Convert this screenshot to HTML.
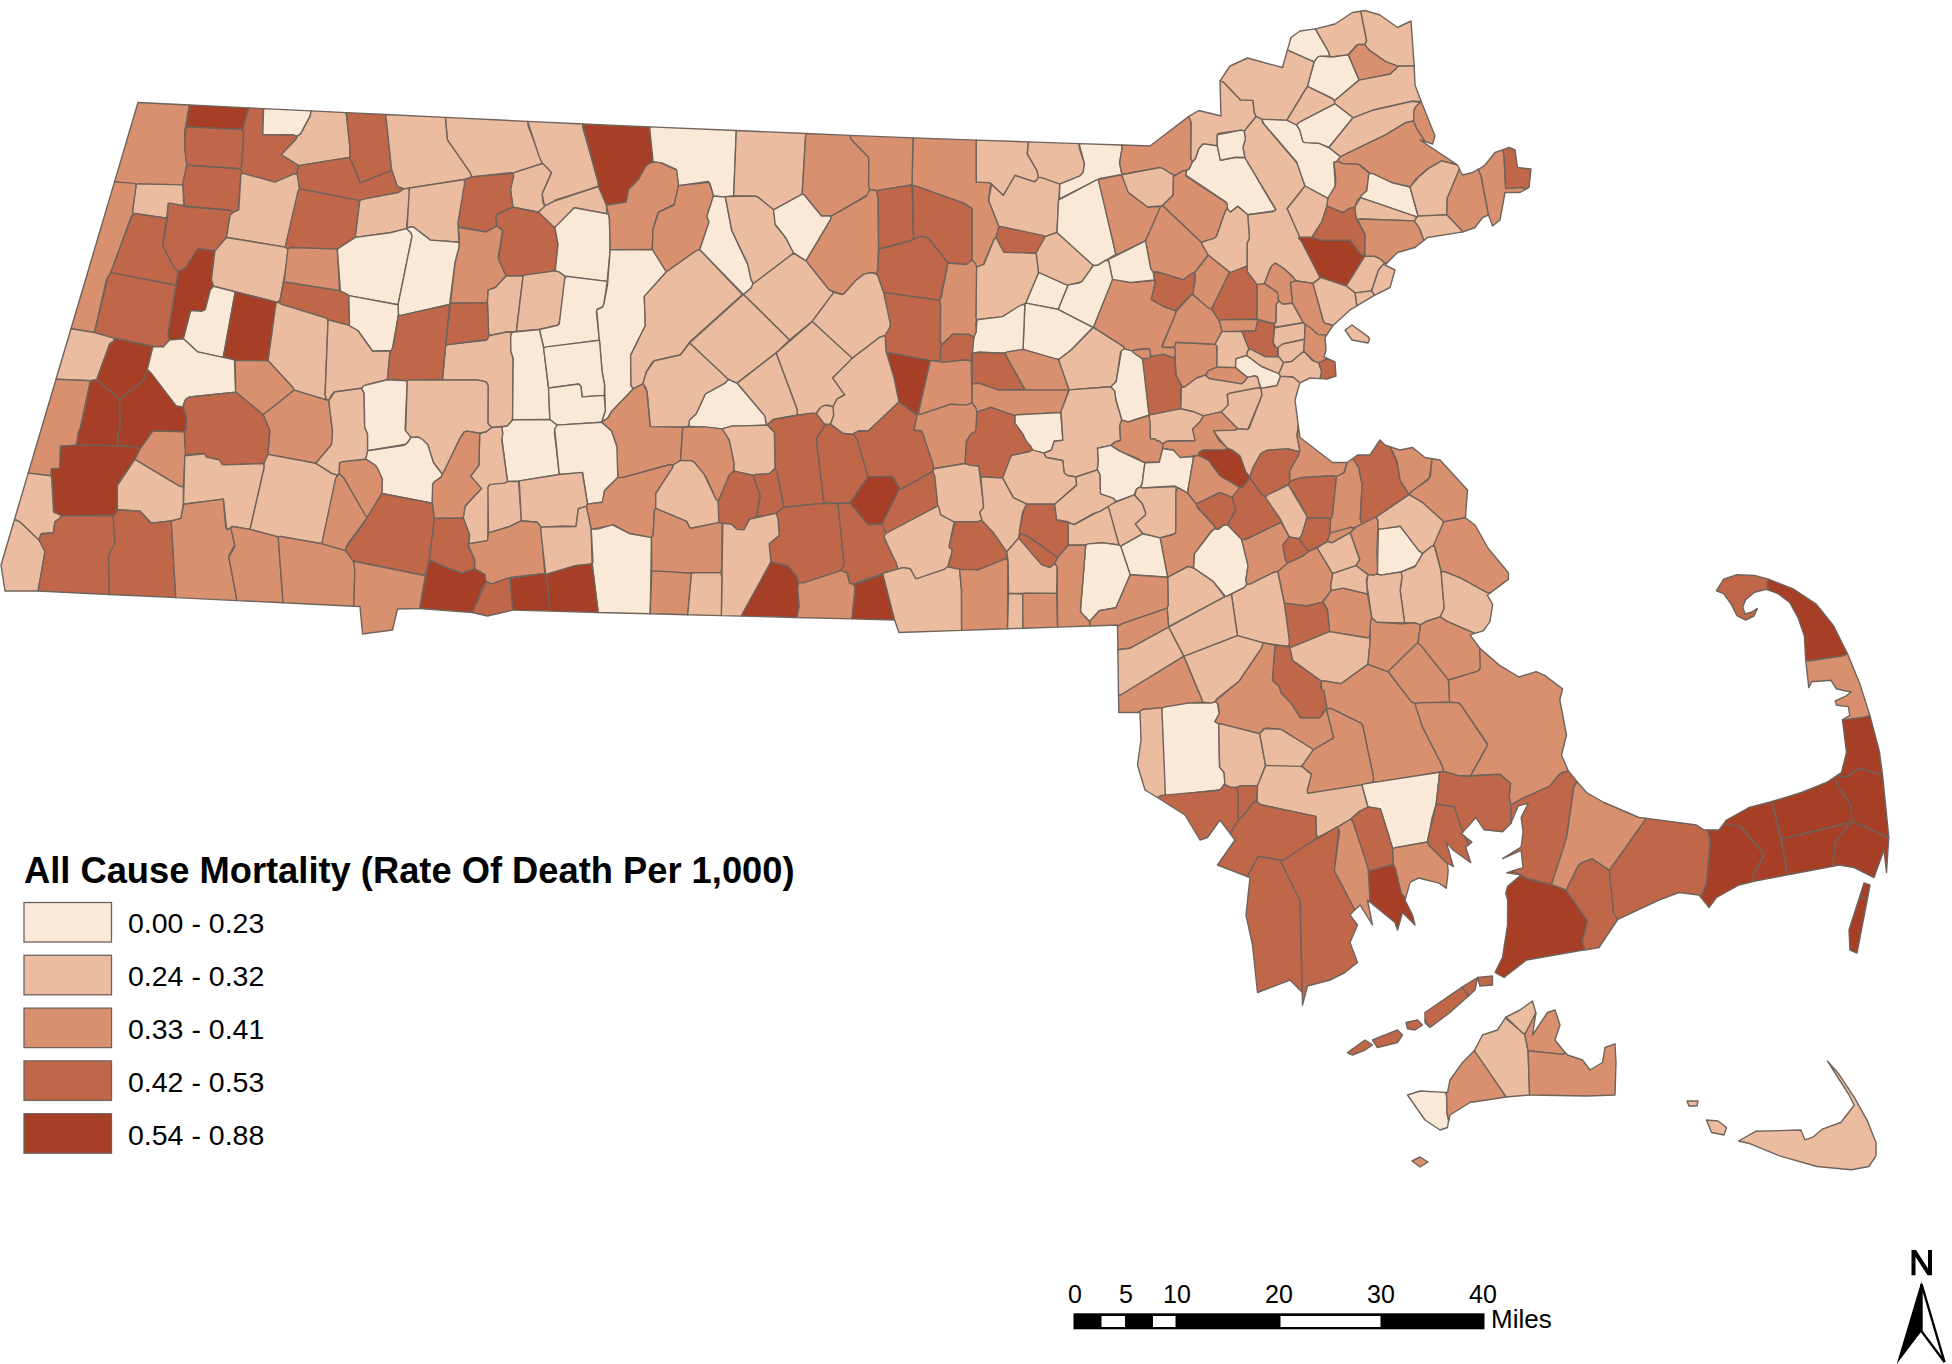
<!DOCTYPE html>
<html><head><meta charset="utf-8"><style>
html,body{margin:0;padding:0;background:#fff;}
body{width:1952px;height:1364px;overflow:hidden;position:relative;}
svg{position:absolute;left:0;top:0;}
text{font-family:"Liberation Sans",sans-serif;fill:#000;}
</style></head><body>
<svg width="1952" height="1364" viewBox="0 0 1952 1364">
<g fill-rule="evenodd" stroke="#6f635b" stroke-width="1.4" stroke-linejoin="round">
<path fill="#EBBC9F" d="M1868.8 1166.5 1876.0 1155.8 1876.0 1142.5 1867.5 1121.2 1854.2 1097.2 1838.2 1073.2 1827.5 1061.2 1848.8 1094.5 1854.2 1105.2 1840.8 1122.5 1822.2 1129.2 1812.9 1137.2 1804.9 1139.8 1800.9 1130.0 1755.6 1131.3 1738.7 1141.0 1750.3 1143.8 1779.6 1155.8 1816.9 1166.5 1851.5 1169.7Z"/>
<path fill="#EBBC9F" d="M1706.5 1120.0 1711.5 1132.5 1724.0 1135.0 1726.5 1127.5 1718.0 1121.0Z"/>
<path fill="#EBBC9F" d="M1689.0 1106.0 1697.0 1106.0 1698.0 1101.0 1687.0 1101.0Z"/>
<path fill="#D9906F" d="M1412.0 1161.0 1420.0 1167.0 1428.0 1162.0 1420.0 1157.0Z"/>
<path fill="#D9906F" d="M1174.4 346.5 1176.0 375.2 1181.9 386.9 1184.9 386.7 1196.7 378.0 1205.6 375.2 1208.5 370.7 1216.9 367.2 1217.1 346.3 1215.0 344.2 1175.8 342.2Z"/>
<path fill="#D9906F" d="M1479.6 648.0 1479.6 669.8 1448.4 680.1 1449.5 702.3 1458.3 702.9 1460.6 704.6 1487.4 743.6 1485.9 748.5 1470.5 775.6 1497.2 774.2 1502.1 775.7 1510.6 783.4 1509.2 796.9 1510.8 805.1 1523.5 797.9 1549.4 786.4 1559.0 774.8 1563.4 771.9 1568.5 771.2 1561.5 755.0 1566.5 735.0 1559.8 700.0 1562.5 688.9 1545.3 675.7 1536.1 671.7 1518.9 677.0 1499.2 665.1Z"/>
<path fill="#FBE9D8" d="M1198.8 148.4 1195.3 158.7 1192.4 161.7 1189.2 168.9 1186.4 170.9 1185.7 175.2 1226.1 202.1 1227.4 208.8 1230.3 212.1 1237.9 206.4 1247.7 214.7 1276.1 210.5 1244.8 157.5 1235.6 157.2 1220.5 160.3 1217.3 145.7 1204.0 143.4Z"/>
<path fill="#EBBC9F" d="M1256.1 116.3 1244.2 131.1 1245.4 139.0 1242.9 147.1 1244.8 157.5 1276.1 209.7 1273.0 211.7 1247.7 214.7 1249.4 238.0 1247.1 243.1 1247.2 271.8 1257.1 284.6 1262.9 284.1 1265.0 282.5 1270.2 267.9 1275.3 263.1 1283.9 268.6 1293.2 277.1 1295.3 280.8 1312.9 283.4 1320.2 277.6 1301.3 240.8 1298.6 238.2 1299.6 236.9 1298.8 233.5 1287.2 208.5 1305.0 186.0 1297.6 163.9 1262.5 122.5 1262.0 119.2Z"/>
<path fill="#FBE9D8" d="M1264.1 124.1 1296.7 161.9 1305.0 186.0 1327.3 198.2 1329.5 197.0 1335.3 186.0 1333.9 162.5 1337.2 161.1 1340.5 156.6 1328.9 147.5 1318.7 143.2 1303.2 141.9 1299.8 129.9 1296.6 125.0 1286.9 120.1 1263.2 118.8 1262.0 119.7Z"/>
<path fill="#A63F26" d="M1311.8 237.2 1301.9 236.2 1298.6 238.2 1301.3 240.8 1320.2 277.6 1346.3 286.0 1364.7 255.7 1360.6 254.3 1350.2 240.3 1320.7 240.2Z"/>
<path fill="#EBBC9F" d="M1364.9 256.1 1346.3 286.0 1355.0 292.9 1371.5 290.9 1378.8 269.5 1384.8 262.9 1379.7 258.5 1374.7 256.3Z"/>
<path fill="#EBBC9F" d="M1378.8 269.5 1371.5 290.9 1374.4 295.3 1390.0 287.5 1395.0 270.0 1385.0 265.0 1387.0 263.0 1384.8 262.9Z"/>
<path fill="#EBBC9F" d="M1371.5 290.9 1355.0 292.9 1356.8 305.9 1374.4 295.3Z"/>
<path fill="#EBBC9F" d="M1321.1 277.5 1312.9 283.4 1323.2 321.0 1324.9 323.3 1333.1 325.4 1350.0 310.0 1356.8 305.9 1355.0 292.9 1346.3 286.0ZM1368.4 336.9 1352.0 325.0 1345.0 330.0 1352.0 340.0 1368.0 343.0 1369.5 339.3Z"/>
<path fill="#D9906F" d="M1290.5 282.0 1292.5 303.3 1303.3 322.8 1318.0 334.6 1326.6 335.1 1333.1 325.4 1324.9 323.3 1323.2 321.0 1312.9 283.4 1295.3 280.8Z"/>
<path fill="#D9906F" d="M1271.6 265.8 1264.3 283.6 1276.3 291.3 1278.7 301.1 1282.3 304.1 1292.5 303.3 1290.3 282.5 1295.3 280.8 1294.8 279.0 1283.9 268.6 1275.3 263.1Z"/>
<path fill="#D9906F" d="M1257.1 284.6 1256.8 319.2 1274.2 323.8 1276.1 322.2 1276.3 304.3 1278.7 301.1 1277.5 292.6 1264.3 283.6Z"/>
<path fill="#EBBC9F" d="M1276.3 304.3 1276.1 322.2 1274.2 323.8 1275.0 327.2 1303.3 322.8 1292.5 303.3 1282.9 304.3 1278.7 301.1Z"/>
<path fill="#C0674A" d="M1247.7 272.9 1246.6 266.1 1244.2 266.3 1229.5 272.1 1228.1 273.8 1211.4 309.2 1219.1 320.7 1256.8 319.2 1257.1 284.6Z"/>
<path fill="#D9906F" d="M1219.1 320.7 1222.0 331.6 1255.5 330.8 1257.8 320.3 1256.8 319.2 1221.1 319.8Z"/>
<path fill="#C0674A" d="M1257.8 320.3 1255.5 330.8 1241.8 331.6 1248.6 348.8 1265.5 356.9 1278.4 356.5 1277.6 348.2 1274.4 346.2 1273.2 342.7 1274.2 323.8Z"/>
<path fill="#EBBC9F" d="M1274.6 327.7 1273.2 342.7 1276.3 347.7 1277.6 348.2 1282.8 344.0 1304.8 339.2 1305.2 324.8 1303.3 322.8Z"/>
<path fill="#EBBC9F" d="M1278.2 347.3 1278.4 356.5 1283.6 362.6 1291.7 361.5 1303.8 351.2 1304.9 339.3 1282.8 344.0Z"/>
<path fill="#D9906F" d="M1305.2 324.8 1303.8 351.2 1314.8 361.8 1318.8 362.9 1327.8 358.7 1324.0 357.0 1326.0 350.0 1325.0 337.5 1326.6 335.1 1318.0 334.6 1309.4 326.8Z"/>
<path fill="#D9906F" d="M1175.9 311.9 1162.0 346.9 1174.3 347.4 1175.8 342.2 1215.0 344.2 1222.0 331.6 1219.1 320.7 1211.4 309.2 1191.7 294.3Z"/>
<path fill="#EBBC9F" d="M1222.0 331.6 1215.0 344.2 1217.1 346.3 1216.9 367.2 1235.5 367.6 1235.9 358.8 1246.6 355.5 1248.8 349.0 1241.8 331.6Z"/>
<path fill="#EBBC9F" d="M1247.5 351.3 1246.6 355.5 1259.7 365.6 1278.0 373.8 1280.4 371.7 1283.6 362.6 1278.4 356.5 1265.5 356.9 1250.1 348.8Z"/>
<path fill="#FBE9D8" d="M1246.6 355.5 1235.9 358.8 1235.5 367.6 1241.7 373.4 1247.5 377.4 1256.9 376.1 1261.0 388.4 1277.0 385.6 1280.6 376.2 1278.8 373.7 1261.5 366.6Z"/>
<path fill="#D9906F" d="M1216.9 367.2 1208.5 370.7 1205.6 375.2 1208.8 378.5 1211.4 379.1 1241.2 383.9 1244.2 382.1 1247.5 377.4 1235.5 367.6Z"/>
<path fill="#EBBC9F" d="M1196.7 378.0 1184.9 386.7 1181.5 387.3 1180.3 408.8 1193.5 411.7 1203.3 415.9 1221.1 411.9 1226.2 408.0 1228.2 405.0 1227.2 394.7 1228.2 393.8 1260.1 387.6 1257.7 377.4 1254.5 375.7 1247.5 377.4 1244.2 382.1 1241.2 383.9 1208.8 378.5 1205.6 375.2Z"/>
<path fill="#EBBC9F" d="M1227.4 394.3 1228.2 405.0 1221.1 411.9 1237.7 428.7 1247.8 429.5 1262.0 395.3 1261.0 388.4 1258.2 387.8 1230.6 393.0Z"/>
<path fill="#EBBC9F" d="M1213.7 431.8 1227.2 448.5 1231.2 449.6 1239.4 455.3 1245.6 471.8 1249.7 476.8 1253.0 467.8 1260.8 453.5 1267.5 450.1 1288.3 448.9 1299.1 451.7 1299.9 450.5 1297.0 435.7 1298.3 425.7 1295.0 400.0 1299.9 382.8 1293.2 377.0 1283.2 375.8 1280.6 376.2 1277.0 385.6 1261.0 388.4 1262.0 395.3 1249.2 428.1 1247.6 429.6 1237.7 428.7 1235.1 430.1 1215.4 429.9Z"/>
<path fill="#EBBC9F" d="M1303.8 351.2 1291.7 361.5 1283.6 362.6 1278.8 373.7 1280.6 376.2 1293.2 377.0 1299.9 382.8 1310.0 378.0 1320.1 378.6 1321.6 371.6 1318.8 362.9 1312.3 360.6Z"/>
<path fill="#C0674A" d="M1327.8 358.7 1318.8 362.9 1321.6 371.6 1320.1 378.6 1327.0 379.0 1336.0 376.0 1335.0 362.0Z"/>
<path fill="#C0674A" d="M1149.7 358.1 1141.9 358.4 1149.0 415.1 1179.6 409.5 1181.0 406.4 1180.6 389.8 1181.9 386.9 1176.0 375.2 1174.8 358.1 1163.0 354.1 1150.9 356.5Z"/>
<path fill="#D9906F" d="M1112.1 279.8 1093.3 327.4 1123.4 346.7 1124.5 348.8 1132.5 351.1 1136.3 349.4 1148.8 348.5 1150.9 356.5 1163.0 354.1 1174.7 357.9 1175.4 350.4 1174.3 347.4 1165.1 347.6 1162.6 347.3 1161.9 345.8 1175.5 314.1 1175.8 310.7 1163.5 306.5 1151.4 299.7 1155.0 284.4 1154.7 280.2 1130.7 282.5 1114.8 279.1Z"/>
<path fill="#EBBC9F" d="M1193.5 411.7 1180.3 408.8 1149.0 415.1 1150.6 439.1 1154.9 438.6 1156.5 440.8 1159.3 441.2 1162.6 443.8 1169.4 440.9 1195.3 440.5 1192.7 429.1 1200.3 421.6 1203.3 415.9Z"/>
<path fill="#D9906F" d="M1192.7 429.1 1195.0 440.7 1166.9 441.2 1162.6 443.8 1162.7 448.5 1173.6 450.3 1178.7 456.6 1181.3 457.7 1198.2 455.4 1199.2 452.6 1202.9 450.0 1224.0 450.1 1227.2 448.5 1226.7 447.2 1218.9 440.4 1213.7 430.8 1235.1 430.1 1237.7 428.7 1221.1 411.9 1203.3 415.9 1200.3 421.6Z"/>
<path fill="#D9906F" d="M1298.3 425.7 1297.0 435.7 1299.9 450.5 1289.5 471.2 1289.8 481.3 1300.2 477.8 1333.4 475.8 1336.5 476.6 1343.5 474.0 1347.1 462.5 1332.5 462.5 1300.0 437.5Z"/>
<path fill="#EBBC9F" d="M976.2 140.1 976.2 182.1 990.7 183.2 1003.4 195.4 1015.0 175.5 1033.5 181.7 1037.2 180.0 1038.5 177.4 1037.0 170.7 1027.3 153.9 1028.4 141.9Z"/>
<path fill="#EBBC9F" d="M1028.4 141.9 1027.3 153.9 1037.0 170.7 1038.5 177.4 1059.7 184.1 1079.5 176.2 1083.1 172.5 1084.5 163.8 1079.5 148.7 1079.0 143.6Z"/>
<path fill="#FBE9D8" d="M1079.0 143.6 1084.5 163.8 1083.1 172.5 1079.5 176.2 1059.7 184.1 1059.4 199.0 1100.1 178.5 1121.9 174.4 1119.6 162.6 1122.1 148.3 1121.6 145.0Z"/>
<path fill="#D9906F" d="M1121.9 174.4 1160.1 167.5 1173.8 175.3 1189.2 168.9 1192.4 161.7 1190.9 158.4 1191.2 122.4 1188.9 116.4 1150.0 146.0 1121.6 145.0 1122.1 148.3 1119.6 162.6Z"/>
<path fill="#EBBC9F" d="M1188.9 116.4 1191.2 122.4 1190.9 158.4 1192.4 161.7 1195.3 158.7 1198.8 148.4 1203.2 143.7 1217.3 145.7 1217.3 134.7 1218.4 133.5 1241.2 130.1 1244.2 131.1 1256.1 116.3 1254.3 112.4 1253.0 100.4 1240.6 99.9 1223.6 82.2 1220.0 80.9 1221.0 116.0 1198.8 110.5Z"/>
<path fill="#FBE9D8" d="M1241.2 130.1 1217.3 134.7 1217.3 145.7 1220.3 160.2 1235.6 157.2 1244.8 157.5 1242.9 147.1 1245.4 139.0 1244.2 131.1Z"/>
<path fill="#EBBC9F" d="M991.6 184.4 988.5 200.6 998.9 226.7 1045.2 236.6 1057.0 232.4 1059.7 184.1 1041.9 177.6 1038.5 177.4 1035.7 181.3 1033.5 181.7 1015.0 175.5 1003.4 195.4Z"/>
<path fill="#D9906F" d="M913.0 137.9 912.0 185.0 964.2 203.4 972.0 208.9 972.0 259.7 976.6 266.7 983.1 265.1 994.0 239.4 996.0 237.5 998.9 226.7 988.5 200.6 990.3 186.5 991.6 184.3 989.4 182.6 976.2 182.1 976.2 140.1Z"/>
<path fill="#C0674A" d="M998.9 226.7 996.0 237.5 1003.2 251.5 1005.3 252.8 1035.8 253.5 1045.0 238.3 1043.7 235.6 1001.9 226.8Z"/>
<path fill="#EBBC9F" d="M1045.2 236.6 1035.8 253.5 1038.5 272.9 1068.0 285.6 1082.2 281.3 1092.7 266.9 1092.4 264.0 1057.0 232.4Z"/>
<path fill="#EBBC9F" d="M976.1 267.3 975.9 317.8 976.9 319.7 1002.6 316.6 1025.9 303.1 1038.5 272.9 1036.4 254.7 1035.0 253.4 1003.7 252.2 996.0 237.5 994.0 239.4 983.9 264.4Z"/>
<path fill="#FBE9D8" d="M1096.1 180.1 1058.5 200.2 1057.0 232.4 1093.3 265.5 1097.6 265.4 1115.9 254.3 1099.5 182.3 1098.3 179.6Z"/>
<path fill="#D9906F" d="M1121.6 174.8 1098.3 179.6 1115.9 254.3 1118.0 254.2 1145.5 240.9 1160.7 208.5 1160.6 206.5 1147.6 207.0 1129.4 193.4Z"/>
<path fill="#EBBC9F" d="M1160.1 167.5 1121.6 174.8 1128.2 192.2 1147.6 207.0 1162.5 205.6 1173.2 195.0 1173.8 175.3 1163.5 168.8Z"/>
<path fill="#D9906F" d="M1183.0 170.7 1173.3 176.7 1173.2 195.0 1162.5 205.6 1201.7 242.7 1214.2 238.3 1216.5 236.3 1225.6 210.4 1227.4 208.8 1227.0 203.1 1187.2 177.0 1185.7 175.2 1186.4 170.9Z"/>
<path fill="#D9906F" d="M1160.6 206.5 1145.5 240.9 1150.8 269.1 1153.2 271.9 1157.5 271.8 1183.5 279.8 1194.9 272.2 1208.3 254.6 1201.7 242.7 1162.5 205.6Z"/>
<path fill="#EBBC9F" d="M1225.6 210.4 1216.5 236.3 1214.2 238.3 1203.3 241.5 1201.6 243.6 1208.3 255.2 1229.5 272.1 1231.7 271.9 1246.6 266.1 1247.1 264.8 1247.1 243.1 1249.4 238.0 1247.7 214.7 1237.9 206.4 1230.3 212.1 1227.4 208.8Z"/>
<path fill="#FBE9D8" d="M1145.5 240.9 1108.1 259.7 1112.5 279.4 1130.7 282.5 1154.5 280.0 1153.2 271.9 1150.8 269.1Z"/>
<path fill="#FBE9D8" d="M1038.5 272.9 1025.9 303.1 1058.2 309.4 1068.0 285.6 1040.8 273.4Z"/>
<path fill="#FBE9D8" d="M1068.0 285.6 1058.2 309.5 1093.3 327.4 1112.5 279.4 1108.8 261.2 1105.6 260.3 1097.6 265.4 1093.3 265.5 1082.2 281.3 1079.2 283.0 1069.9 284.5Z"/>
<path fill="#C0674A" d="M1162.3 273.3 1153.2 271.9 1155.4 281.9 1151.3 299.3 1163.5 306.5 1175.8 310.7 1190.2 295.2 1193.8 292.9 1195.2 272.6 1191.4 273.5 1183.5 279.8Z"/>
<path fill="#D9906F" d="M1208.3 255.2 1194.9 272.2 1195.4 277.7 1192.9 294.3 1207.4 307.3 1211.4 309.2 1229.5 272.1Z"/>
<path fill="#FBE9D8" d="M1024.9 304.0 1023.0 349.4 1056.0 359.5 1060.8 358.5 1068.7 352.5 1092.8 327.5 1057.9 309.3 1025.9 303.1Z"/>
<path fill="#FBE9D8" d="M976.9 319.7 976.2 331.7 973.8 337.0 972.4 353.2 979.3 352.3 1004.6 353.2 1023.0 349.4 1024.9 304.0 1019.3 305.9 1002.6 316.6Z"/>
<path fill="#D9906F" d="M1004.6 353.2 1024.6 389.2 1026.3 390.1 1069.2 389.9 1058.5 359.6 1023.0 349.4 1007.0 351.9Z"/>
<path fill="#EBBC9F" d="M1072.2 349.1 1058.5 359.6 1069.2 389.9 1110.7 386.7 1116.2 381.8 1120.5 352.3 1124.5 348.8 1123.4 346.7 1093.3 327.4Z"/>
<path fill="#FBE9D8" d="M1121.5 350.5 1116.2 381.8 1110.7 386.7 1114.6 391.0 1115.8 399.8 1121.8 420.2 1128.1 422.0 1149.0 415.1 1142.8 361.3 1141.9 358.4 1132.5 351.1 1124.5 348.8Z"/>
<path fill="#D9906F" d="M1149.7 348.9 1133.8 350.0 1132.5 351.1 1133.1 352.5 1141.9 358.4 1148.6 358.5 1150.6 357.2Z"/>
<path fill="#C0674A" d="M972.4 353.2 972.1 384.0 978.6 383.2 998.9 390.1 1024.6 389.2 1004.6 353.2 979.3 352.3Z"/>
<path fill="#D9906F" d="M972.1 384.0 972.0 402.8 976.1 408.5 976.8 412.2 991.0 407.5 1014.8 415.6 1060.7 412.5 1068.9 390.1 998.9 390.1 978.6 383.2Z"/>
<path fill="#FBE9D8" d="M1014.8 415.6 1014.8 423.2 1022.9 434.4 1025.6 440.4 1032.4 449.9 1034.8 451.2 1043.9 453.2 1051.5 450.0 1054.2 441.2 1062.9 440.3 1060.7 412.5 1017.5 414.7Z"/>
<path fill="#C0674A" d="M976.8 412.2 975.2 431.5 970.8 433.9 965.8 443.1 965.0 463.5 970.0 465.4 978.4 465.9 980.9 476.8 1002.7 478.1 1011.6 455.5 1031.2 451.1 1032.4 449.9 1031.3 446.9 1025.6 440.4 1022.9 434.4 1014.8 423.2 1014.8 415.6 991.0 407.5Z"/>
<path fill="#EBBC9F" d="M1061.0 411.4 1062.9 440.3 1054.2 441.2 1051.5 450.0 1043.9 453.2 1045.7 456.8 1047.8 457.8 1062.7 460.5 1064.2 473.0 1067.5 475.5 1075.9 477.0 1097.4 469.9 1098.4 459.8 1097.5 448.2 1110.9 445.4 1115.3 441.7 1120.6 440.5 1119.5 427.3 1121.8 420.2 1115.8 399.8 1114.6 391.0 1110.7 386.7 1069.2 389.9Z"/>
<path fill="#D9906F" d="M1119.8 424.8 1120.6 440.5 1115.3 441.7 1110.9 445.4 1118.7 450.7 1138.3 459.0 1142.3 462.0 1159.3 462.2 1162.7 448.5 1162.6 443.8 1159.3 441.2 1156.5 440.8 1154.9 438.6 1151.8 439.3 1150.2 438.4 1150.1 421.0 1148.7 415.5 1128.1 422.0 1121.8 420.2Z"/>
<path fill="#A63F26" d="M1198.2 455.4 1208.7 460.6 1220.0 476.0 1239.7 487.3 1242.4 487.2 1249.9 478.1 1245.6 471.8 1240.3 456.5 1231.2 449.6 1227.2 448.5 1224.0 450.1 1202.9 450.0 1199.2 452.6Z"/>
<path fill="#C0674A" d="M1260.8 453.5 1253.0 467.8 1249.9 478.1 1262.6 495.5 1265.7 496.8 1287.9 485.0 1289.8 481.3 1289.5 471.2 1299.1 454.1 1299.1 451.7 1288.3 448.9 1267.5 450.1Z"/>
<path fill="#C0674A" d="M1290.8 480.8 1287.9 485.0 1293.4 491.9 1305.3 513.1 1306.8 518.2 1327.3 517.9 1330.5 519.2 1332.3 516.8 1336.5 476.6 1333.4 475.8 1300.2 477.8Z"/>
<path fill="#D9906F" d="M1336.5 476.6 1332.3 516.8 1330.5 519.2 1330.0 533.0 1335.5 532.5 1350.7 527.3 1353.8 528.1 1362.0 523.9 1360.3 518.8 1362.1 484.8 1358.7 467.4 1354.7 460.3 1352.5 458.7 1347.1 462.5 1344.6 472.4Z"/>
<path fill="#C0674A" d="M1352.5 458.7 1358.7 467.4 1362.1 484.8 1360.3 518.8 1362.0 523.9 1376.1 517.2 1409.1 494.7 1400.2 480.3 1396.9 460.9 1392.6 453.6 1390.4 446.8 1385.0 445.0 1380.0 440.0 1370.0 455.0 1357.5 455.0Z"/>
<path fill="#D9906F" d="M1390.4 446.8 1396.9 460.9 1400.2 480.3 1409.1 494.3 1429.4 477.9 1432.1 458.7 1425.0 457.5 1412.5 447.5 1400.0 450.0Z"/>
<path fill="#D9906F" d="M1432.1 458.7 1430.4 476.3 1428.0 479.9 1412.3 490.8 1409.1 494.7 1422.5 502.6 1443.6 521.9 1465.4 517.8 1467.5 490.0 1440.0 460.0Z"/>
<path fill="#FBE9D8" d="M1110.9 445.4 1097.5 448.2 1098.4 459.8 1097.4 469.9 1099.9 474.7 1100.4 493.8 1112.9 498.1 1116.1 501.5 1134.2 494.9 1136.5 488.9 1140.5 486.9 1142.1 484.2 1144.9 462.8 1118.7 450.7Z"/>
<path fill="#FBE9D8" d="M1144.9 462.8 1142.1 484.2 1140.5 486.9 1142.5 488.0 1174.9 486.0 1187.5 493.2 1193.7 456.5 1180.2 457.6 1173.6 450.3 1162.7 448.5 1159.3 462.2Z"/>
<path fill="#EBBC9F" d="M1134.8 495.4 1142.0 503.2 1145.5 512.5 1145.4 514.7 1135.2 524.1 1142.7 533.7 1160.1 537.9 1175.2 533.5 1176.2 530.3 1176.1 486.6 1142.5 488.0 1140.5 486.9 1136.5 488.9Z"/>
<path fill="#D9906F" d="M1193.7 456.5 1187.5 493.2 1196.2 503.8 1201.2 502.4 1219.1 492.6 1232.2 497.4 1238.9 489.6 1239.7 487.3 1220.0 476.0 1208.7 460.6 1204.5 458.4 1198.2 455.4Z"/>
<path fill="#C0674A" d="M1220.1 492.5 1196.2 503.8 1196.4 506.1 1213.8 525.2 1215.1 528.2 1218.3 529.4 1223.8 525.3 1227.6 524.9 1235.8 508.9 1232.2 497.4Z"/>
<path fill="#C0674A" d="M1239.7 487.3 1232.2 497.4 1235.7 510.1 1227.6 524.9 1241.8 539.8 1246.8 539.0 1281.1 522.4 1280.0 518.6 1265.7 496.8 1262.6 495.5 1249.9 478.1 1242.4 487.2Z"/>
<path fill="#EBBC9F" d="M1287.9 485.0 1268.8 494.2 1265.7 496.8 1266.4 498.9 1280.0 518.6 1289.1 536.9 1298.9 538.8 1301.7 535.5 1306.8 518.2 1306.4 515.3 1289.1 486.1Z"/>
<path fill="#C0674A" d="M1306.8 518.2 1301.7 535.5 1298.9 538.8 1308.4 551.7 1327.4 541.6 1330.0 533.0 1330.5 519.2 1327.3 517.9Z"/>
<path fill="#C0674A" d="M1289.1 536.9 1282.6 545.1 1285.4 559.9 1287.5 563.2 1302.9 556.2 1308.4 551.7 1298.9 538.8Z"/>
<path fill="#D9906F" d="M1350.7 527.3 1330.0 533.0 1327.4 541.6 1331.9 542.9 1351.6 531.8 1353.8 528.1Z"/>
<path fill="#EBBC9F" d="M1327.4 541.6 1317.0 547.8 1332.5 573.7 1356.1 565.7 1359.7 559.8 1350.3 532.7 1331.9 542.9Z"/>
<path fill="#D9906F" d="M1355.9 527.2 1350.3 532.7 1359.8 559.4 1356.1 565.7 1368.0 574.6 1375.6 574.8 1377.4 574.0 1377.9 571.1 1376.8 553.3 1378.1 520.8 1376.1 517.2 1374.9 517.5Z"/>
<path fill="#FBE9D8" d="M1378.4 529.0 1377.4 574.0 1380.7 575.1 1401.0 572.0 1416.4 565.5 1422.8 553.4 1418.8 550.6 1401.3 527.2 1398.9 526.2Z"/>
<path fill="#EBBC9F" d="M1409.1 494.7 1376.1 517.2 1378.1 520.8 1377.9 528.2 1380.4 529.1 1400.1 526.3 1418.8 550.6 1422.8 553.4 1433.5 545.5 1443.6 523.8 1443.2 521.2 1422.5 502.6Z"/>
<path fill="#D9906F" d="M1443.6 521.9 1433.5 545.5 1435.4 548.4 1441.1 571.5 1445.0 571.8 1459.1 577.4 1487.0 592.6 1490.3 592.9 1508.4 579.4 1508.4 572.8 1488.6 549.0 1475.0 525.0 1465.4 517.8Z"/>
<path fill="#EBBC9F" d="M1401.5 581.3 1400.1 590.0 1404.6 623.0 1414.8 622.8 1420.5 624.9 1425.9 621.5 1440.2 616.8 1444.2 608.2 1441.1 571.5 1434.3 546.0 1431.3 546.4 1422.8 553.4 1415.0 566.7 1401.0 572.0Z"/>
<path fill="#EBBC9F" d="M1441.1 571.5 1444.2 608.2 1440.2 616.8 1447.1 621.4 1474.8 633.4 1483.3 630.8 1489.9 621.6 1492.6 604.4 1487.3 595.2 1490.3 592.9 1487.0 592.6 1461.2 578.4 1445.0 571.8Z"/>
<path fill="#EBBC9F" d="M1366.6 582.7 1371.7 617.7 1376.7 622.2 1404.6 623.0 1400.1 590.0 1402.1 576.3 1401.0 572.0 1380.7 575.1 1377.4 574.0 1373.2 575.2 1368.0 574.6Z"/>
<path fill="#D9906F" d="M1322.9 602.0 1327.3 609.4 1329.6 631.6 1366.7 637.8 1369.5 637.2 1371.7 617.7 1367.5 594.0 1343.1 588.1 1331.1 590.4Z"/>
<path fill="#EBBC9F" d="M1356.1 565.7 1332.5 573.7 1330.5 585.6 1331.1 590.4 1343.1 588.1 1367.5 594.0 1366.4 580.1 1368.0 574.6Z"/>
<path fill="#D9906F" d="M1277.7 571.5 1284.3 603.1 1306.9 606.0 1322.0 602.4 1331.1 590.4 1330.5 585.6 1332.5 573.7 1317.0 547.8 1308.4 551.7 1302.9 556.2 1287.5 563.2 1278.9 569.6Z"/>
<path fill="#C0674A" d="M1284.3 603.1 1289.5 641.8 1288.5 646.5 1289.9 647.8 1329.6 631.6 1327.3 609.4 1322.8 602.1 1306.9 606.0Z"/>
<path fill="#EBBC9F" d="M1231.4 594.4 1237.5 635.7 1263.3 642.9 1288.5 646.5 1289.5 641.8 1284.3 603.1 1277.7 571.5 1274.5 571.8 1250.8 583.6 1246.8 584.3 1244.2 587.3 1233.2 592.9Z"/>
<path fill="#EBBC9F" d="M1329.6 631.6 1289.9 647.8 1291.9 659.7 1321.1 681.1 1340.8 683.8 1367.9 664.4 1370.2 641.3 1369.5 637.2 1366.7 637.8Z"/>
<path fill="#D9906F" d="M1370.3 622.9 1370.2 641.3 1367.9 664.4 1388.1 671.8 1418.0 643.0 1420.5 624.9 1414.8 622.8 1401.6 623.8 1376.7 622.2 1371.7 617.7Z"/>
<path fill="#D9906F" d="M1440.2 616.8 1425.9 621.5 1420.5 624.9 1418.0 643.0 1448.2 680.0 1477.8 671.1 1480.2 667.8 1479.6 648.0 1470.1 634.8 1474.8 633.4 1447.1 621.4Z"/>
<path fill="#D9906F" d="M1415.8 644.3 1388.1 671.8 1411.5 702.1 1415.8 703.7 1449.5 702.3 1448.4 680.1 1421.2 645.8 1418.0 643.0Z"/>
<path fill="#C0674A" d="M1274.9 645.3 1272.0 679.5 1279.3 686.8 1281.0 693.1 1290.9 702.9 1300.3 717.9 1320.1 717.7 1323.3 711.5 1326.9 708.1 1324.0 690.6 1321.6 689.6 1320.5 686.0 1321.1 681.1 1292.7 660.7 1289.9 647.8 1288.5 646.5Z"/>
<path fill="#D9906F" d="M1321.1 681.1 1321.6 689.6 1324.0 690.6 1326.9 708.1 1332.0 708.8 1361.1 723.4 1362.8 725.9 1373.4 777.3 1373.2 782.0 1378.1 782.3 1443.6 771.4 1442.1 765.4 1422.4 726.7 1415.8 703.7 1411.5 702.1 1388.1 671.8 1367.9 664.4 1340.8 683.8 1324.0 680.7Z"/>
<path fill="#EBBC9F" d="M1224.7 596.6 1168.6 627.2 1184.0 656.4 1237.5 635.7 1231.4 594.4Z"/>
<path fill="#EBBC9F" d="M1167.6 577.2 1168.2 604.8 1167.1 608.2 1168.7 626.6 1224.7 596.6 1213.0 581.1 1195.0 568.7 1188.3 566.3Z"/>
<path fill="#FBE9D8" d="M1213.6 528.9 1194.2 553.9 1193.5 567.8 1213.0 581.1 1225.7 596.6 1244.2 587.3 1246.8 584.3 1245.9 579.5 1248.1 565.8 1241.8 539.8 1227.6 524.9 1223.8 525.3 1218.3 529.4Z"/>
<path fill="#D9906F" d="M1241.8 539.8 1248.1 565.8 1245.9 579.5 1246.8 584.3 1250.8 583.6 1274.5 571.8 1277.7 571.5 1287.5 563.2 1285.4 559.9 1282.6 545.1 1289.1 536.9 1281.1 522.4 1246.8 539.0Z"/>
<path fill="#D9906F" d="M1175.9 491.9 1175.8 532.8 1172.0 535.1 1160.1 537.9 1167.6 577.2 1187.7 566.3 1193.5 567.8 1194.2 553.9 1210.4 532.1 1215.1 528.2 1213.8 525.2 1197.7 508.0 1196.2 503.8 1187.5 493.2 1178.0 487.7Z"/>
<path fill="#FBE9D8" d="M1120.6 546.1 1130.2 574.7 1167.6 577.2 1160.1 537.9 1142.7 533.7Z"/>
<path fill="#EBBC9F" d="M1107.4 506.8 1119.0 545.0 1120.6 546.1 1142.7 533.7 1135.2 524.1 1145.4 514.7 1145.5 512.5 1142.0 503.2 1134.2 494.9 1109.7 504.7Z"/>
<path fill="#EBBC9F" d="M1067.9 522.6 1068.2 545.3 1085.7 545.0 1100.6 542.6 1119.0 545.0 1109.0 508.8 1107.4 506.8 1074.6 524.5Z"/>
<path fill="#FBE9D8" d="M1085.7 545.0 1080.4 610.4 1081.4 613.0 1089.7 621.4 1099.2 610.8 1116.0 607.8 1130.2 574.7 1120.6 546.1 1119.0 545.0 1102.9 542.7 1088.0 543.9Z"/>
<path fill="#D9906F" d="M1116.0 607.8 1099.2 610.8 1089.7 621.4 1089.6 626.0 1117.5 625.0 1117.5 626.7 1121.9 623.9 1167.1 608.2 1168.2 604.8 1167.6 577.3 1130.2 574.7Z"/>
<path fill="#D9906F" d="M1117.9 649.8 1129.8 648.3 1168.6 627.2 1167.1 608.2 1121.9 623.9 1117.5 626.7Z"/>
<path fill="#EBBC9F" d="M1120.7 695.0 1183.7 656.3 1168.6 627.2 1129.8 648.3 1117.9 649.8 1118.5 695.0Z"/>
<path fill="#EBBC9F" d="M1237.5 635.7 1184.0 656.4 1203.0 702.3 1211.3 703.1 1215.1 701.8 1216.6 699.0 1239.3 681.0 1261.4 648.3 1263.3 642.9Z"/>
<path fill="#D9906F" d="M1183.7 656.3 1120.7 695.0 1118.5 695.0 1118.8 712.5 1137.6 712.5 1143.0 709.5 1161.9 708.3 1187.8 703.2 1203.0 702.3Z"/>
<path fill="#D9906F" d="M1239.3 681.0 1215.2 701.3 1218.5 705.4 1219.2 712.9 1214.7 721.6 1217.0 723.4 1259.7 733.7 1263.3 729.2 1267.1 728.0 1281.1 729.4 1313.1 750.0 1333.7 737.9 1326.5 708.8 1319.5 718.1 1300.3 717.9 1290.9 702.9 1281.0 693.1 1279.3 686.8 1272.4 680.6 1274.9 645.3 1263.3 642.9 1261.4 648.3Z"/>
<path fill="#C0674A" d="M1510.8 805.1 1510.8 823.6 1518.0 806.2 1528.3 803.1 1521.1 817.5 1523.1 831.8 1521.1 847.2 1502.6 858.5 1521.1 850.3 1523.1 867.7 1512.6 871.0 1527.3 878.7 1551.4 884.7 1566.1 840.1 1573.9 786.9 1577.1 781.8 1568.5 771.2 1563.4 771.9 1559.0 774.8 1549.4 786.4 1523.5 797.9Z"/>
<path fill="#D9906F" d="M1566.6 837.9 1551.4 884.7 1566.1 890.2 1578.9 864.5 1581.9 862.6 1592.1 858.8 1609.5 870.4 1644.5 821.0 1645.1 818.1 1639.0 817.5 1604.0 802.5 1586.5 792.5 1577.1 781.8 1573.9 786.9Z"/>
<path fill="#A63F26" d="M1584.7 949.7 1582.4 941.0 1587.4 921.2 1566.1 890.2 1551.4 884.7 1527.3 878.7 1520.6 875.3 1507.7 886.2 1505.7 893.4 1507.7 900.0 1507.5 925.0 1502.5 957.5 1495.0 972.5 1504.0 977.5 1526.5 960.0ZM1519.2 874.6 1512.6 871.0 1506.7 872.9Z"/>
<path fill="#C0674A" d="M1577.9 866.6 1566.1 890.2 1587.4 921.2 1582.4 941.0 1584.8 950.1 1599.0 947.5 1617.9 919.4 1613.6 912.5 1609.4 870.5 1592.1 858.8 1581.9 862.6Z"/>
<path fill="#C0674A" d="M1644.5 821.0 1609.4 870.5 1613.6 912.5 1617.9 919.4 1659.0 900.0 1679.0 892.5 1699.0 895.0 1700.9 897.4 1706.6 884.0 1710.4 839.3 1707.4 830.0 1704.0 830.0 1696.5 825.0 1645.1 818.1Z"/>
<path fill="#A63F26" d="M1707.4 830.0 1710.6 841.2 1706.6 884.0 1700.9 897.4 1709.0 907.5 1716.5 897.5 1739.0 885.0 1754.0 881.4 1753.2 875.0 1764.0 854.3 1739.5 825.9 1723.8 823.6 1719.0 830.0Z"/>
<path fill="#A63F26" d="M1723.8 823.6 1741.0 826.6 1763.6 853.4 1763.9 855.6 1753.2 875.0 1754.0 881.4 1785.3 875.3 1786.4 866.0 1772.2 801.5 1749.0 807.5 1726.5 820.0Z"/>
<path fill="#A63F26" d="M1772.2 801.5 1781.5 839.8 1845.6 823.5 1849.4 824.0 1852.9 820.4 1850.1 803.5 1837.8 786.3 1835.1 776.8 1826.5 782.5 1801.5 792.5Z"/>
<path fill="#A63F26" d="M1781.5 839.8 1786.4 866.0 1785.3 875.3 1833.0 866.2 1835.7 841.7 1847.8 827.7 1849.4 824.0 1845.6 823.5 1784.8 838.2Z"/>
<path fill="#A63F26" d="M1849.4 824.0 1835.7 841.7 1833.0 866.2 1839.0 865.0 1854.0 867.5 1874.0 877.5 1884.0 850.0 1886.5 872.5 1888.8 837.3 1852.6 821.6ZM1867.3 899.3 1870.0 885.0 1864.0 883.0 1859.8 896.2Z"/>
<path fill="#A63F26" d="M1858.6 768.6 1846.0 777.2 1837.2 775.4 1835.1 776.8 1837.8 786.3 1850.1 803.5 1852.6 821.6 1888.8 837.3 1882.4 773.6 1877.0 773.5 1861.7 768.5Z"/>
<path fill="#A63F26" d="M1837.2 775.4 1846.0 777.2 1859.5 768.4 1877.0 773.5 1882.4 773.6 1879.2 750.6 1869.8 715.1 1866.4 716.6 1846.4 718.5 1842.5 720.1 1846.5 752.5 1841.5 772.5Z"/>
<path fill="#C0674A" d="M1768.5 590.2 1767.2 582.8 1768.3 579.1 1754.5 575.4 1736.9 574.7 1723.7 579.1 1716.4 590.8 1723.7 593.7 1731.1 604.0 1736.9 615.7 1745.7 620.0 1754.0 616.0 1757.4 608.4 1752.0 612.0 1745.0 614.0 1742.8 606.9 1745.7 599.6 1754.5 592.3 1766.2 589.3Z"/>
<path fill="#A63F26" d="M1768.5 590.2 1778.0 593.7 1789.7 602.5 1798.5 618.7 1804.4 636.2 1805.7 660.5 1808.5 661.1 1843.6 655.7 1847.5 653.7 1833.7 626.0 1816.1 604.0 1792.6 588.6 1768.3 579.1 1767.2 582.8Z"/>
<path fill="#D9906F" d="M1842.5 720.1 1866.4 716.6 1869.8 715.1 1860.1 684.6 1847.5 653.7 1843.6 655.7 1808.5 661.1 1805.7 660.5 1808.8 687.6 1811.7 681.7 1830.8 680.2 1836.6 689.0 1851.3 692.0 1845.4 696.4 1835.2 700.8 1836.6 705.2 1848.4 706.6 1849.8 715.4 1842.5 719.8Z"/>
<path fill="#EBBC9F" d="M445.3 117.4 447.4 139.8 470.1 172.6 471.6 176.9 510.5 172.7 513.4 173.4 542.5 163.5 528.1 125.8 527.8 121.4Z"/>
<path fill="#EBBC9F" d="M527.8 121.4 539.1 156.5 542.5 163.5 551.4 172.6 542.1 193.7 544.1 204.7 547.4 205.4 555.7 200.0 598.4 186.5 598.3 182.5 582.6 126.9 582.8 124.0Z"/>
<path fill="#EBBC9F" d="M513.4 173.4 510.5 189.5 512.9 207.2 538.5 212.3 545.0 206.5 543.0 202.4 542.1 193.7 551.4 172.6 544.0 164.8 542.5 163.5 515.7 172.0Z"/>
<path fill="#A63F26" d="M582.8 124.0 598.3 182.5 598.4 186.5 605.3 204.3 606.4 205.3 626.0 202.3 628.5 189.5 638.7 179.2 646.8 165.4 653.1 162.0 649.6 126.9Z"/>
<path fill="#FBE9D8" d="M649.6 126.9 653.1 162.0 662.4 163.2 676.1 169.5 678.5 185.6 708.1 181.5 710.3 184.6 713.4 196.0 725.4 197.1 733.7 195.7 736.3 130.5Z"/>
<path fill="#EBBC9F" d="M736.3 130.5 733.7 195.7 756.7 196.4 773.5 209.8 802.2 194.1 805.8 133.5Z"/>
<path fill="#D9906F" d="M805.8 133.5 802.2 194.1 804.4 195.2 821.5 216.0 832.9 215.4 867.6 194.9 869.8 189.6 868.6 185.9 868.9 157.8 852.6 141.0 850.1 135.4Z"/>
<path fill="#D9906F" d="M851.0 139.0 868.9 157.8 868.6 185.9 869.8 189.6 876.8 190.8 912.0 185.0 913.0 137.9 850.1 135.4Z"/>
<path fill="#C0674A" d="M464.3 179.5 457.9 222.8 458.3 226.6 486.2 232.0 496.8 226.1 495.8 216.4 497.2 214.1 512.9 207.2 510.5 189.5 513.7 176.2 513.1 173.2 471.6 176.9Z"/>
<path fill="#C0674A" d="M512.9 207.2 497.2 214.1 495.8 216.4 496.8 226.1 501.7 229.2 502.7 232.5 498.3 260.0 506.1 276.1 523.1 275.8 555.2 270.9 558.0 244.6 554.9 227.2 538.5 212.3Z"/>
<path fill="#EBBC9F" d="M553.8 201.3 545.3 205.7 538.5 212.3 554.0 227.1 557.0 226.1 574.3 207.7 603.6 213.5 607.0 213.1 606.4 205.3 598.4 186.5Z"/>
<path fill="#FBE9D8" d="M574.3 207.7 554.9 227.2 558.0 244.6 555.2 270.9 559.4 272.2 565.4 276.6 607.2 281.4 610.2 249.7 609.4 218.1 608.3 214.0Z"/>
<path fill="#D9906F" d="M606.4 205.3 609.4 218.1 610.2 249.7 652.3 249.5 653.0 229.4 657.1 215.0 658.7 212.2 674.7 203.8 678.5 185.6 676.7 170.2 660.0 162.6 653.1 162.0 648.3 164.1 645.3 167.1 638.7 179.2 628.5 189.5 626.2 202.1Z"/>
<path fill="#D9906F" d="M658.7 212.2 653.0 229.4 652.3 249.5 666.3 272.0 695.6 251.1 699.7 249.7 709.0 222.1 706.9 216.2 713.4 196.0 709.2 182.3 678.5 185.6 674.1 205.0Z"/>
<path fill="#FBE9D8" d="M713.4 196.0 706.9 216.2 709.0 222.1 699.7 249.7 743.4 294.5 750.9 288.3 753.1 283.8 751.1 279.7 748.2 265.5 731.8 230.5 725.4 197.1Z"/>
<path fill="#EBBC9F" d="M725.4 197.1 731.8 230.5 747.5 263.4 751.1 279.7 753.6 283.8 792.0 254.5 793.6 253.1 793.3 251.2 784.6 236.1 775.9 225.8 773.5 209.8 758.3 197.4 755.0 196.1 727.1 196.5Z"/>
<path fill="#FBE9D8" d="M802.2 194.1 773.5 209.8 775.2 224.3 785.9 238.0 793.6 253.1 806.0 260.9 830.3 220.2 831.3 216.1 821.5 216.0 804.4 195.2Z"/>
<path fill="#D9906F" d="M830.3 220.2 806.0 260.9 829.0 289.8 842.9 294.7 856.2 280.1 863.9 274.1 871.3 272.7 875.9 273.8 877.9 270.4 878.6 249.3 878.1 195.7 876.8 190.8 869.8 189.6 866.1 196.3 831.3 216.1Z"/>
<path fill="#C0674A" d="M878.2 198.1 878.6 249.3 909.8 241.0 913.6 238.9 912.0 185.0 877.6 190.4 876.8 192.6Z"/>
<path fill="#C0674A" d="M912.6 185.7 913.6 238.9 920.7 236.4 928.1 238.0 948.0 263.0 964.0 264.7 968.2 264.0 972.0 259.7 972.0 208.9 964.2 203.4 917.1 186.3Z"/>
<path fill="#C0674A" d="M878.6 249.3 877.9 270.4 875.9 273.8 877.7 275.8 883.8 293.2 936.8 300.3 940.1 299.7 948.0 263.0 928.1 238.0 920.7 236.4 909.8 241.0Z"/>
<path fill="#C0674A" d="M883.4 295.1 890.3 323.8 889.6 327.9 885.1 335.5 886.1 351.4 887.4 353.5 889.8 352.9 930.3 360.7 939.1 360.9 940.4 359.0 941.7 344.9 940.4 341.1 940.7 305.2 939.5 300.2 885.7 292.8 883.8 293.2Z"/>
<path fill="#A63F26" d="M887.3 354.4 898.9 401.8 917.4 414.9 930.3 360.7 889.8 352.9Z"/>
<path fill="#D9906F" d="M948.0 263.0 941.3 297.4 939.5 300.2 940.7 305.2 940.4 341.1 941.7 344.9 952.8 334.1 968.8 334.4 973.8 337.0 976.2 331.7 975.8 322.8 976.9 319.7 975.9 317.8 976.6 266.7 975.1 263.1 972.0 259.7 966.6 264.5Z"/>
<path fill="#C0674A" d="M952.8 334.1 940.8 346.2 940.4 359.0 939.1 360.9 943.2 362.4 964.4 360.0 971.2 360.9 973.8 337.0 968.8 334.4Z"/>
<path fill="#D9906F" d="M930.3 360.7 918.2 414.1 921.3 414.1 951.1 404.2 965.9 405.1 972.0 402.8 971.2 360.9 964.4 360.0 943.2 362.4 932.0 360.5Z"/>
<path fill="#D9906F" d="M916.8 415.1 914.0 430.2 920.5 430.8 922.3 432.2 933.9 468.7 965.0 463.5 966.3 441.2 970.8 433.9 975.2 431.5 975.9 428.9 976.8 412.2 976.1 408.5 972.0 402.8 965.9 405.1 951.1 404.2 921.3 414.1 918.2 414.1Z"/>
<path fill="#C0674A" d="M856.6 439.0 867.9 476.9 892.7 476.5 899.1 488.8 900.6 489.3 932.9 471.4 933.5 465.6 922.3 432.2 920.5 430.8 914.0 430.2 916.8 415.1 898.9 401.8 868.3 430.8 855.9 431.5 853.2 434.1Z"/>
<path fill="#D9906F" d="M457.9 227.2 459.4 237.8 459.1 246.9 455.0 262.1 450.5 303.2 487.4 302.6 488.2 290.1 495.2 287.7 506.1 276.1 498.1 258.2 502.5 230.3 496.8 226.1 486.2 232.0Z"/>
<path fill="#EBBC9F" d="M488.2 290.1 487.4 302.6 488.7 335.8 507.0 332.0 516.4 331.4 523.1 275.8 506.1 276.1 495.2 287.7Z"/>
<path fill="#EBBC9F" d="M523.1 275.8 516.4 331.4 539.4 329.5 557.9 325.2 559.8 321.3 565.4 276.6 559.4 272.2 555.2 270.9 524.5 275.1Z"/>
<path fill="#FBE9D8" d="M564.7 278.5 559.3 323.7 557.9 325.2 539.4 329.5 543.7 348.0 599.5 340.3 596.4 312.1 597.0 309.5 602.6 307.0 603.8 304.5 607.2 281.4 566.5 276.3Z"/>
<path fill="#FBE9D8" d="M596.7 309.8 602.1 371.7 604.6 385.4 605.3 410.5 601.7 422.3 608.0 417.9 611.4 411.7 633.2 388.9 631.0 385.3 630.6 355.4 645.4 325.5 644.3 296.4 666.3 272.0 652.3 249.5 610.2 249.7 607.5 284.8 603.8 304.5 602.6 307.0Z"/>
<path fill="#EBBC9F" d="M445.7 344.9 442.5 379.1 446.0 380.1 476.7 379.9 486.1 381.9 488.1 385.7 487.9 423.1 491.4 427.5 507.3 426.0 512.6 420.0 513.2 358.5 510.9 351.1 511.3 332.6 507.0 332.0 488.7 335.8 486.2 340.3Z"/>
<path fill="#FBE9D8" d="M510.7 335.9 510.9 351.1 513.2 358.5 512.6 420.0 549.9 419.5 548.6 387.9 543.7 348.0 539.4 329.5 512.2 332.2Z"/>
<path fill="#FBE9D8" d="M543.6 348.2 548.6 387.9 578.7 384.0 580.9 386.2 582.1 396.9 604.2 395.4 604.6 385.4 602.1 371.7 599.5 340.3 546.1 346.9Z"/>
<path fill="#FBE9D8" d="M578.7 384.0 548.5 388.1 549.9 419.5 551.8 421.5 557.1 425.1 601.6 422.2 605.3 410.5 604.2 395.4 582.1 396.9 580.9 386.2Z"/>
<path fill="#FBE9D8" d="M507.3 426.0 501.8 426.9 502.7 433.9 501.7 437.7 507.5 481.5 518.6 481.2 559.3 474.5 554.4 431.9 557.1 425.1 549.9 419.5 515.2 419.7 512.6 420.0Z"/>
<path fill="#EBBC9F" d="M644.3 296.4 645.4 325.5 630.6 355.4 631.0 385.3 633.2 388.9 642.8 383.9 646.6 371.5 651.8 362.9 654.3 360.8 680.3 355.0 690.4 341.2 742.4 294.6 699.7 249.7 695.6 251.1 666.3 272.0Z"/>
<path fill="#EBBC9F" d="M793.6 253.1 753.1 283.8 750.9 288.3 743.4 294.5 789.5 340.0 812.1 321.6 833.8 292.4 829.0 289.8 806.0 260.9Z"/>
<path fill="#EBBC9F" d="M833.8 292.4 812.1 321.6 852.1 358.4 879.3 337.5 885.1 335.5 889.6 327.9 890.3 323.8 883.8 293.2 877.7 275.8 875.9 273.8 871.3 272.7 863.9 274.1 856.2 280.1 843.9 294.0 841.7 294.7Z"/>
<path fill="#EBBC9F" d="M743.4 294.5 689.6 343.0 728.4 379.4 736.5 383.2 776.1 352.9 789.5 340.0Z"/>
<path fill="#EBBC9F" d="M812.1 321.6 776.1 352.9 797.2 409.7 797.3 414.9 816.4 413.4 819.2 408.7 823.5 405.7 828.7 405.3 833.0 406.7 837.2 398.9 844.7 394.6 832.5 377.7 851.4 360.4 851.2 357.2Z"/>
<path fill="#EBBC9F" d="M776.1 352.9 737.1 383.3 764.8 416.1 766.3 425.2 773.1 419.5 797.3 414.9 797.2 409.7Z"/>
<path fill="#EBBC9F" d="M852.1 358.4 832.6 377.9 844.7 394.8 837.2 398.9 833.0 406.7 833.6 415.3 830.4 424.1 842.3 433.1 852.4 434.2 858.5 430.8 868.3 430.8 898.9 401.8 894.2 378.5 886.1 351.4 885.1 335.5 879.3 337.5Z"/>
<path fill="#FBE9D8" d="M705.3 394.0 696.2 413.8 689.5 419.9 688.6 426.2 722.2 428.9 731.5 426.1 766.3 425.2 764.8 416.1 737.1 383.3 728.4 379.4 724.9 383.1Z"/>
<path fill="#EBBC9F" d="M654.3 360.8 646.6 371.5 642.8 383.9 645.5 386.9 647.0 391.9 650.3 426.6 682.8 427.3 688.6 426.2 689.5 419.9 696.2 413.8 705.3 394.0 724.9 383.1 728.4 379.4 689.6 343.0 680.3 355.0Z"/>
<path fill="#D9906F" d="M633.2 388.9 611.4 411.7 608.0 417.9 601.7 422.3 611.6 431.3 616.5 444.7 617.8 477.5 622.3 477.6 669.4 464.7 673.2 465.0 680.5 460.5 682.8 427.3 650.1 426.6 647.0 391.9 643.6 384.6 642.8 383.9Z"/>
<path fill="#C0674A" d="M767.4 425.3 774.4 432.5 775.0 468.5 777.1 472.7 783.9 507.2 824.0 503.2 816.3 439.0 825.7 424.6 816.4 413.4 812.7 412.9 773.1 419.5Z"/>
<path fill="#EBBC9F" d="M478.9 465.4 470.6 476.3 481.5 488.6 464.7 506.9 463.2 518.0 469.7 535.6 468.8 543.7 471.3 544.2 487.7 540.5 488.7 485.4 504.9 483.1 507.5 481.5 501.8 439.8 502.7 433.9 501.8 426.9 491.4 427.5 486.6 431.5 479.7 433.3Z"/>
<path fill="#FBE9D8" d="M554.7 428.9 559.3 474.5 582.6 472.6 587.5 504.1 602.7 502.0 604.6 490.5 617.8 477.5 616.9 446.7 611.6 431.3 601.6 422.2 557.1 425.1Z"/>
<path fill="#D9906F" d="M703.5 426.6 682.8 427.3 680.5 460.5 691.4 460.8 694.2 462.2 706.3 477.5 715.7 498.7 718.3 501.4 729.5 474.7 733.9 471.1 734.2 463.9 730.6 445.0 728.3 437.8 722.2 428.9Z"/>
<path fill="#EBBC9F" d="M722.2 428.9 729.4 440.1 734.2 463.9 733.9 471.1 753.5 475.5 769.6 473.6 775.0 468.5 774.4 432.5 767.4 425.3 731.5 426.1Z"/>
<path fill="#C0674A" d="M830.4 424.1 825.7 424.6 816.3 439.0 824.0 503.2 850.0 503.0 867.9 476.9 865.7 468.6 857.2 439.6 854.4 435.0 842.3 433.1Z"/>
<path fill="#EBBC9F" d="M487.9 487.1 488.5 532.9 510.0 526.4 521.4 520.8 518.6 481.2 507.5 481.5 504.9 483.1 490.3 484.4Z"/>
<path fill="#EBBC9F" d="M519.2 480.9 521.4 520.8 537.2 522.2 541.2 527.3 562.4 525.9 576.0 526.5 578.4 508.7 586.4 506.4 587.5 504.1 582.3 472.4 559.3 474.5Z"/>
<path fill="#D9906F" d="M604.6 490.5 602.3 502.3 587.5 504.1 586.4 506.4 591.2 529.4 613.7 524.9 630.1 533.8 651.5 537.6 653.1 535.2 654.5 510.2 655.7 508.4 655.8 493.4 671.9 469.5 673.2 465.0 669.4 464.7 622.3 477.6 617.8 477.5Z"/>
<path fill="#EBBC9F" d="M673.0 467.2 655.8 493.4 655.7 508.4 686.6 521.4 689.7 527.7 691.2 528.2 718.8 522.6 718.3 501.4 715.7 498.7 703.8 473.8 694.2 462.2 691.4 460.8 680.5 460.5 673.2 465.0Z"/>
<path fill="#C0674A" d="M729.5 474.7 718.3 501.4 718.8 522.6 732.0 524.4 736.9 529.4 744.0 529.7 745.5 528.8 748.4 520.0 756.4 516.9 760.1 494.8 753.5 475.5 733.9 471.1Z"/>
<path fill="#C0674A" d="M753.5 475.5 760.4 496.4 756.4 516.9 776.0 513.4 783.7 507.4 777.1 472.7 775.0 468.5 769.6 473.6 754.9 474.5Z"/>
<path fill="#A63F26" d="M867.9 476.9 850.0 503.0 867.8 524.5 881.8 524.3 898.2 492.2 899.4 489.1 898.6 486.9 892.3 476.4Z"/>
<path fill="#C0674A" d="M899.4 489.1 881.8 524.3 885.9 533.5 937.8 506.1 934.8 474.1 932.9 471.4 902.7 488.5Z"/>
<path fill="#EBBC9F" d="M934.8 476.3 937.8 506.1 940.6 514.9 954.2 522.0 977.6 521.7 982.0 520.4 979.8 512.3 983.5 508.5 983.6 505.0 978.7 466.2 970.0 465.4 965.0 463.5 933.9 468.7 932.9 471.4Z"/>
<path fill="#C0674A" d="M955.1 521.6 949.0 546.1 949.6 548.1 951.8 548.6 951.8 552.2 947.7 566.8 959.6 569.4 978.2 569.9 1006.9 558.6 1006.8 551.8 993.2 532.4 982.0 520.4 977.6 521.7Z"/>
<path fill="#EBBC9F" d="M935.1 507.4 885.9 533.5 883.7 536.1 897.8 568.9 903.1 567.6 910.2 568.7 914.8 578.2 918.2 578.9 944.2 569.3 947.7 566.8 951.8 552.2 951.8 548.6 949.6 548.1 949.0 546.1 954.2 522.0 940.6 514.9 938.9 507.0 937.8 506.1Z"/>
<path fill="#C0674A" d="M783.9 507.2 776.0 513.4 778.4 520.5 779.3 535.4 769.2 543.9 770.9 562.0 788.2 566.2 795.8 575.8 798.6 582.7 803.6 582.8 841.1 570.6 844.1 564.8 838.2 503.6 824.0 503.2Z"/>
<path fill="#C0674A" d="M850.0 503.0 838.2 503.6 838.3 507.0 844.1 564.8 841.1 570.6 847.8 573.7 849.4 583.2 854.0 584.5 859.0 581.7 897.8 568.9 896.2 562.9 884.6 539.6 883.7 536.1 885.9 533.5 881.8 524.3 867.8 524.5Z"/>
<path fill="#D9906F" d="M487.6 540.6 468.8 543.7 468.1 544.9 474.5 559.5 474.6 568.9 484.8 574.3 486.0 581.7 488.5 583.5 491.6 583.8 511.6 577.2 544.8 573.4 541.2 527.3 537.2 522.2 521.0 520.9 510.0 526.4 488.5 532.9Z"/>
<path fill="#EBBC9F" d="M540.6 528.8 545.7 574.4 575.4 565.7 592.1 563.9 591.2 529.4 586.4 506.4 578.4 508.7 576.0 526.5 541.9 527.1Z"/>
<path fill="#FBE9D8" d="M591.2 529.4 593.0 562.2 592.1 563.9 598.2 612.5 650.2 613.8 651.5 537.6 630.1 533.8 612.4 524.8 599.2 528.7Z"/>
<path fill="#D9906F" d="M654.5 510.2 653.1 535.2 651.5 537.6 651.8 571.6 691.5 573.2 720.8 572.7 721.9 567.8 722.1 523.5 718.8 522.6 691.2 528.2 689.7 527.7 686.6 521.4 655.7 508.4Z"/>
<path fill="#EBBC9F" d="M722.8 523.2 721.3 615.6 741.3 616.1 770.9 562.0 769.2 543.9 779.3 535.4 777.9 518.0 776.0 513.4 749.9 519.0 744.0 529.7 736.9 529.4 732.0 524.4Z"/>
<path fill="#A63F26" d="M770.9 562.0 741.3 616.1 797.0 617.5 799.2 606.0 797.6 588.5 798.6 582.7 795.8 575.8 788.2 566.2Z"/>
<path fill="#D9906F" d="M797.8 588.8 799.2 606.0 797.0 617.5 852.0 618.9 855.3 586.4 854.0 584.5 849.4 583.2 846.8 572.9 841.1 570.6 803.6 582.8 798.6 582.7Z"/>
<path fill="#A63F26" d="M882.9 574.3 854.0 584.5 855.3 588.7 852.0 618.9 894.6 620.0Z"/>
<path fill="#EBBC9F" d="M903.1 567.6 885.1 572.5 882.9 574.3 894.6 620.0 899.0 632.5 961.6 630.4 961.5 589.7 959.6 569.4 947.7 566.8 944.2 569.3 916.0 578.9 910.2 568.7Z"/>
<path fill="#D9906F" d="M978.2 569.9 959.6 569.4 961.5 589.7 961.6 630.4 1007.5 628.8 1007.9 559.8 1005.2 558.9Z"/>
<path fill="#D9906F" d="M651.8 571.6 650.2 613.8 687.7 614.7 691.5 573.2 655.0 570.9Z"/>
<path fill="#EBBC9F" d="M691.5 573.2 687.7 614.7 721.3 615.6 721.9 577.8 720.9 572.8 692.6 572.7Z"/>
<path fill="#C0674A" d="M486.0 581.7 472.5 612.5 487.5 616.0 512.8 610.1 510.2 578.4 507.1 578.2 491.6 583.8Z"/>
<path fill="#A63F26" d="M544.8 573.4 510.2 578.4 512.8 610.1 549.9 611.1 546.7 574.8Z"/>
<path fill="#A63F26" d="M546.7 574.8 549.9 611.1 598.2 612.5 592.1 563.9 575.4 565.7 549.1 573.6Z"/>
<path fill="#EBBC9F" d="M1028.8 451.8 1011.6 455.5 1010.1 458.3 1002.7 478.1 1013.3 497.7 1026.7 504.1 1054.7 504.2 1076.7 485.1 1075.9 477.0 1067.5 475.5 1064.2 473.0 1062.7 460.5 1047.8 457.8 1045.7 456.8 1043.9 453.2 1032.4 449.9Z"/>
<path fill="#EBBC9F" d="M980.9 476.8 983.6 507.5 979.8 512.3 982.0 520.4 993.2 532.4 1006.8 551.8 1018.6 538.1 1022.3 513.2 1026.7 504.1 1013.3 497.7 1002.7 478.1Z"/>
<path fill="#C0674A" d="M1023.6 510.6 1019.3 530.6 1020.1 533.9 1025.8 535.2 1036.5 542.0 1057.4 557.8 1068.2 545.3 1067.9 522.6 1056.6 519.7 1054.7 504.2 1026.7 504.1Z"/>
<path fill="#C0674A" d="M1020.1 533.9 1018.6 538.1 1041.7 564.9 1049.9 567.6 1055.0 563.5 1057.4 557.8 1053.0 553.9 1025.8 535.2Z"/>
<path fill="#EBBC9F" d="M1076.7 485.1 1054.7 504.2 1056.6 519.7 1066.7 521.5 1073.9 524.4 1094.3 513.1 1100.1 511.3 1116.1 501.5 1112.9 498.1 1100.4 493.8 1099.9 474.7 1097.4 469.9 1075.9 477.0Z"/>
<path fill="#EBBC9F" d="M1018.6 538.1 1006.8 551.8 1008.2 562.4 1008.5 593.5 1056.6 593.4 1057.3 567.2 1055.0 563.5 1049.9 567.6 1041.7 564.9Z"/>
<path fill="#D9906F" d="M1055.0 563.5 1057.3 567.2 1057.5 627.1 1089.6 626.0 1089.7 621.4 1081.4 613.0 1080.4 610.4 1085.7 545.0 1068.2 545.3 1057.4 557.8Z"/>
<path fill="#EBBC9F" d="M1008.5 593.5 1007.5 628.8 1023.0 628.2 1022.7 594.0Z"/>
<path fill="#D9906F" d="M1022.7 594.0 1023.0 628.2 1057.5 627.1 1056.6 593.4 1023.9 593.3Z"/>
<path fill="#FBE9D8" d="M1448.6 1120.3 1447.1 1113.9 1446.6 1095.2 1445.3 1092.4 1420.0 1091.0 1407.5 1095.0 1425.0 1120.0 1440.0 1130.0 1447.5 1127.5Z"/>
<path fill="#D9906F" d="M1446.6 1095.2 1447.1 1113.9 1448.8 1120.8 1450.0 1115.0 1470.0 1102.5 1506.2 1097.0 1477.8 1053.8 1474.4 1050.6 1462.5 1062.5 1450.0 1080.0 1447.5 1092.5 1445.3 1092.4Z"/>
<path fill="#EBBC9F" d="M1474.4 1050.6 1506.2 1097.0 1529.6 1095.0 1528.1 1050.7 1524.8 1034.4 1507.3 1019.8 1505.8 1017.1 1497.5 1030.0 1482.5 1035.0Z"/>
<path fill="#EBBC9F" d="M1505.8 1017.1 1522.6 1033.1 1525.6 1033.8 1535.9 1013.1 1532.5 1001.0 1520.0 1010.0Z"/>
<path fill="#D9906F" d="M1535.9 1013.1 1524.8 1034.4 1528.1 1050.7 1562.8 1054.4 1565.5 1053.2 1555.0 1040.0 1560.0 1025.0 1555.0 1010.0 1547.5 1012.5 1532.5 1035.0Z"/>
<path fill="#D9906F" d="M1528.1 1050.7 1529.6 1095.0 1587.5 1096.0 1615.0 1095.0 1616.0 1062.5 1615.0 1043.8 1605.0 1047.5 1602.5 1062.5 1590.0 1070.0 1582.5 1060.0 1567.5 1055.0 1565.8 1052.9 1562.8 1054.4Z"/>
<path fill="#FBE9D8" d="M1287.4 50.1 1314.1 61.8 1318.6 56.6 1329.5 55.9 1329.0 52.5 1315.4 28.9 1300.0 31.0 1291.0 37.5Z"/>
<path fill="#EBBC9F" d="M1315.4 28.9 1329.0 52.5 1329.5 55.9 1331.8 57.0 1348.2 54.9 1356.3 45.3 1359.5 44.1 1364.6 44.8 1366.7 40.9 1360.8 11.2 1352.5 12.5 1335.0 24.0Z"/>
<path fill="#EBBC9F" d="M1360.8 11.2 1366.7 40.9 1364.6 44.8 1367.9 49.1 1386.8 62.3 1398.4 66.3 1414.2 65.9 1411.0 21.0 1397.5 27.5 1380.0 15.0 1365.0 10.5Z"/>
<path fill="#D9906F" d="M1357.9 44.4 1348.2 54.9 1359.1 80.1 1390.4 74.0 1398.4 66.3 1384.2 60.8 1369.8 50.7 1364.6 44.8Z"/>
<path fill="#FBE9D8" d="M1314.1 61.8 1307.4 86.4 1332.3 98.5 1334.5 100.7 1359.1 80.1 1348.2 54.9 1331.8 57.0 1320.1 56.1 1317.6 57.1Z"/>
<path fill="#EBBC9F" d="M1220.1 80.9 1223.6 82.2 1240.6 99.9 1253.0 100.4 1254.3 112.4 1256.1 116.3 1262.0 119.2 1286.9 120.1 1307.4 86.4 1314.1 61.8 1287.4 50.1 1282.5 67.5 1247.5 58.0 1230.0 66.0Z"/>
<path fill="#EBBC9F" d="M1307.4 86.4 1286.9 120.1 1296.6 125.0 1301.6 121.0 1334.9 103.8 1334.5 100.7 1332.3 98.5Z"/>
<path fill="#EBBC9F" d="M1359.1 80.1 1334.5 100.7 1334.9 103.8 1353.0 117.8 1372.5 110.3 1412.3 101.3 1421.2 101.5 1415.0 85.0 1414.2 65.9 1398.4 66.3 1390.4 74.0Z"/>
<path fill="#FBE9D8" d="M1334.9 103.8 1298.6 122.7 1296.6 125.0 1299.8 129.9 1302.8 141.4 1304.7 142.6 1318.7 143.2 1328.9 147.5 1353.0 117.8Z"/>
<path fill="#EBBC9F" d="M1353.0 117.8 1328.9 147.5 1340.5 156.6 1385.5 134.9 1405.7 122.7 1413.6 120.9 1414.5 108.6 1419.9 102.2 1412.3 101.3 1372.5 110.3Z"/>
<path fill="#D9906F" d="M1385.5 134.9 1340.5 156.6 1337.2 161.1 1342.6 163.5 1359.8 164.7 1369.5 173.1 1392.0 182.7 1410.0 187.0 1415.7 179.4 1427.1 169.4 1441.6 160.9 1456.5 164.4 1420.0 140.0 1425.2 141.7 1416.6 128.3 1413.6 120.9 1405.7 122.7Z"/>
<path fill="#D9906F" d="M1413.8 111.0 1413.6 120.9 1416.6 128.3 1425.2 141.7 1432.5 144.0 1435.0 136.0 1421.2 101.5 1415.9 106.4Z"/>
<path fill="#D9906F" d="M1333.9 162.5 1335.7 178.3 1335.3 186.0 1327.8 198.4 1326.5 204.8 1328.4 207.1 1343.0 212.7 1349.6 208.4 1354.9 207.1 1357.0 200.7 1366.8 190.8 1369.5 173.1 1358.3 164.3 1342.6 163.5 1337.2 161.1Z"/>
<path fill="#FBE9D8" d="M1368.8 173.9 1366.8 190.8 1361.1 195.6 1360.5 197.7 1416.8 216.8 1418.1 216.0 1410.0 187.0 1392.0 182.7 1372.2 173.4Z"/>
<path fill="#EBBC9F" d="M1419.5 176.1 1410.0 187.0 1418.1 216.0 1421.0 216.9 1446.7 214.7 1447.3 198.3 1459.5 169.0 1457.5 165.0 1441.6 160.9 1429.0 168.1Z"/>
<path fill="#D9906F" d="M1459.5 169.0 1447.3 198.3 1446.7 214.7 1463.1 231.9 1475.0 227.5 1482.5 217.5 1488.6 215.2 1481.2 176.6 1478.3 169.0 1472.5 172.5 1462.5 175.0Z"/>
<path fill="#D9906F" d="M1478.5 169.5 1481.2 176.6 1488.5 214.9 1492.5 226.0 1500.0 220.0 1505.0 192.5 1520.0 192.5 1526.5 188.9 1521.2 187.4 1505.7 188.6 1503.9 152.7 1502.6 149.8 1495.0 152.5 1485.0 165.0Z"/>
<path fill="#C0674A" d="M1504.0 155.3 1505.7 188.6 1521.2 187.4 1526.5 188.9 1529.0 187.5 1531.0 169.0 1517.5 167.5 1515.0 150.0 1509.0 147.5 1502.6 149.8Z"/>
<path fill="#EBBC9F" d="M1360.5 197.7 1354.9 207.1 1355.5 216.2 1357.7 220.0 1361.7 218.9 1414.2 220.9 1416.8 216.8Z"/>
<path fill="#EBBC9F" d="M1446.7 214.7 1418.1 216.0 1414.2 220.9 1419.2 227.9 1423.9 240.4 1427.5 237.5 1463.1 231.9Z"/>
<path fill="#C0674A" d="M1326.8 206.0 1321.9 221.3 1311.8 237.2 1320.7 240.2 1350.2 240.3 1360.6 254.3 1364.7 255.7 1365.1 234.2 1356.0 218.4 1354.9 207.1 1349.6 208.4 1343.0 212.7Z"/>
<path fill="#D9906F" d="M1357.7 220.0 1365.1 234.2 1364.9 256.1 1374.7 256.3 1379.7 258.5 1384.8 262.9 1387.0 263.0 1397.5 252.5 1415.0 247.5 1423.9 240.4 1419.2 227.9 1414.2 220.9 1359.1 219.0Z"/>
<path fill="#EBBC9F" d="M1305.0 186.0 1287.2 208.5 1299.6 236.9 1311.8 237.1 1321.9 221.3 1326.8 206.0 1327.8 198.4Z"/>
<path fill="#EBBC9F" d="M1157.4 797.5 1165.4 795.2 1166.1 792.7 1162.3 712.4 1161.9 708.3 1160.5 707.7 1143.0 709.5 1137.6 712.5 1140.0 712.5 1141.0 740.0 1137.5 765.0 1145.0 790.0Z"/>
<path fill="#FBE9D8" d="M1161.9 708.3 1165.4 795.2 1167.7 796.0 1220.2 789.7 1224.9 783.2 1224.1 772.5 1219.6 767.1 1218.7 724.0 1214.7 721.6 1219.2 713.8 1217.5 703.5 1215.1 701.8 1211.3 703.1 1190.1 702.9 1165.5 706.7Z"/>
<path fill="#EBBC9F" d="M1218.7 724.0 1219.6 767.1 1224.1 772.5 1224.9 784.6 1230.0 787.2 1236.7 787.5 1240.3 785.9 1257.4 786.2 1265.6 765.5 1259.7 733.7 1220.9 723.7Z"/>
<path fill="#EBBC9F" d="M1264.7 728.6 1259.7 733.7 1265.6 765.5 1299.2 767.2 1301.7 766.4 1312.0 753.0 1313.1 750.0 1310.9 747.8 1281.1 729.4Z"/>
<path fill="#D9906F" d="M1313.1 750.0 1301.7 766.4 1311.5 774.4 1307.2 790.0 1307.8 793.4 1361.9 784.9 1373.2 782.0 1373.4 777.3 1362.8 725.9 1361.1 723.4 1332.0 708.8 1326.5 708.8 1333.7 737.9Z"/>
<path fill="#D9906F" d="M1415.4 705.5 1422.4 726.7 1442.1 765.4 1443.6 771.4 1459.0 775.8 1470.5 775.6 1487.6 744.8 1460.6 704.6 1458.3 702.9 1449.5 702.3 1418.2 702.8 1415.8 703.7Z"/>
<path fill="#C0674A" d="M1217.7 790.5 1161.4 795.4 1157.4 797.5 1185.0 815.0 1200.0 840.0 1207.5 837.5 1220.0 820.0 1230.2 833.6 1238.1 822.4 1239.1 819.2 1238.0 817.3 1238.2 791.9 1236.7 787.5 1230.0 787.2 1224.9 784.6 1220.2 789.7Z"/>
<path fill="#C0674A" d="M1238.2 791.9 1238.0 817.3 1239.1 819.2 1243.0 816.2 1253.5 802.5 1256.3 801.1 1257.9 787.9 1257.4 786.2 1255.5 785.8 1240.3 785.9 1236.7 787.5Z"/>
<path fill="#EBBC9F" d="M1265.6 765.5 1257.4 786.2 1257.1 802.6 1260.9 804.8 1315.8 816.4 1316.1 833.6 1317.5 837.7 1338.0 826.9 1350.8 819.0 1358.9 811.7 1368.1 807.0 1361.9 784.9 1307.8 793.4 1307.2 790.0 1311.5 774.4 1301.7 766.4Z"/>
<path fill="#FBE9D8" d="M1361.9 784.9 1368.1 807.0 1380.4 808.9 1392.7 848.6 1427.6 842.0 1432.1 817.6 1436.2 804.1 1439.7 772.3 1364.5 783.9Z"/>
<path fill="#C0674A" d="M1239.1 819.2 1230.2 833.6 1235.0 840.0 1217.5 865.0 1247.3 876.5 1258.2 856.4 1281.0 860.3 1285.6 859.3 1317.5 837.7 1316.1 833.6 1315.8 816.4 1260.9 804.8 1256.3 801.1 1253.5 802.5 1243.0 816.2Z"/>
<path fill="#C0674A" d="M1302.2 992.2 1300.0 899.7 1281.0 860.3 1258.2 856.4 1247.3 876.5 1250.0 877.5 1246.0 915.0 1252.5 945.0 1257.5 992.5 1290.0 980.0Z"/>
<path fill="#C0674A" d="M1301.5 848.0 1285.6 859.3 1281.0 860.3 1281.0 862.1 1300.3 901.5 1302.5 1005.0 1307.5 986.0 1330.0 980.0 1345.0 972.5 1357.5 962.5 1350.0 942.5 1357.5 925.0 1350.0 915.0 1354.9 909.6 1334.3 870.7 1339.0 828.2 1338.0 826.9 1336.3 827.3Z"/>
<path fill="#D9906F" d="M1350.8 819.0 1338.0 826.9 1339.6 830.9 1334.3 870.7 1355.0 910.0 1360.0 905.0 1372.5 925.0 1367.5 900.0 1370.1 902.1 1367.9 864.8 1352.9 821.5Z"/>
<path fill="#C0674A" d="M1359.2 811.7 1350.8 819.0 1352.9 821.5 1369.1 871.2 1393.3 864.5 1392.7 848.6 1380.4 808.9 1368.1 807.0Z"/>
<path fill="#A63F26" d="M1369.1 871.2 1370.1 902.1 1395.0 922.5 1397.5 930.0 1402.5 912.5 1415.0 925.0 1412.5 915.0 1405.0 900.0 1405.4 898.6 1401.3 893.2 1395.3 868.0 1393.3 864.5Z"/>
<path fill="#D9906F" d="M1392.7 848.6 1393.3 864.5 1395.3 868.0 1401.3 893.2 1405.4 898.6 1410.3 882.1 1418.5 878.0 1439.0 883.1 1446.2 888.3 1448.2 870.8 1447.3 863.2 1428.7 844.9 1427.6 842.0 1395.8 847.5Z"/>
<path fill="#C0674A" d="M1436.2 804.1 1427.8 839.9 1428.7 844.9 1446.6 862.7 1453.4 866.7 1446.2 842.1 1453.4 850.3 1470.8 862.6 1465.7 847.2 1468.8 844.6 1464.2 836.0 1461.6 833.9 1462.9 832.1 1454.3 806.5Z"/>
<path fill="#C0674A" d="M1439.7 772.3 1436.2 804.1 1454.3 806.5 1462.9 832.1 1475.9 817.5 1484.1 829.8 1502.6 831.8 1510.8 823.6 1510.8 805.1 1509.2 796.9 1510.6 783.4 1499.9 774.4 1466.6 776.4 1458.1 775.7 1443.6 771.4ZM1464.2 836.0 1468.8 844.6 1471.8 842.1Z"/>
<path fill="#D9906F" d="M114.5 181.9 136.0 184.4 182.7 184.9 186.7 165.3 184.6 145.4 184.8 130.7 189.4 105.0 138.0 102.5Z"/>
<path fill="#A63F26" d="M189.4 105.0 185.8 127.4 242.8 129.5 248.6 107.9Z"/>
<path fill="#C0674A" d="M185.8 127.4 184.6 145.4 186.7 165.3 240.4 168.7 241.7 166.1 243.7 133.4 242.8 129.5 188.7 127.0Z"/>
<path fill="#C0674A" d="M186.7 165.3 182.7 184.9 184.5 206.0 230.2 210.3 233.7 212.1 238.3 210.9 240.8 175.5 242.0 173.1 240.4 168.7Z"/>
<path fill="#EBBC9F" d="M136.0 184.4 132.5 211.5 133.4 213.7 166.7 218.3 168.3 203.5 179.7 205.5 183.9 204.7 182.7 184.9 138.9 183.7Z"/>
<path fill="#D9906F" d="M71.0 328.7 94.5 332.5 106.5 279.5 110.6 272.9 131.2 216.7 133.4 213.7 132.5 211.5 136.1 185.9 136.0 184.4 133.9 183.4 114.5 181.9Z"/>
<path fill="#C0674A" d="M132.6 214.3 110.6 272.9 175.8 285.3 178.4 271.5 173.5 266.4 162.8 245.7 166.7 218.3 135.6 213.5Z"/>
<path fill="#C0674A" d="M168.3 203.5 167.3 219.6 162.8 245.7 173.5 266.4 178.4 271.5 185.8 267.6 197.7 249.0 214.9 250.8 217.5 248.7 226.5 237.5 229.5 217.4 233.7 212.1 230.2 210.3 186.9 206.7 170.9 203.1Z"/>
<path fill="#A63F26" d="M178.4 271.5 168.0 333.9 167.8 336.4 170.4 340.2 183.4 338.7 190.6 310.6 201.8 311.2 205.3 309.7 210.3 289.9 213.6 286.3 211.5 279.7 214.9 250.8 199.4 248.7 197.0 249.6 185.8 267.6Z"/>
<path fill="#C0674A" d="M108.0 276.8 94.5 332.5 114.5 338.3 153.0 346.5 163.5 346.8 169.4 340.0 168.0 333.9 175.8 285.3 113.6 273.1 110.6 272.9Z"/>
<path fill="#C0674A" d="M248.6 107.9 242.8 129.5 243.7 133.4 241.7 166.1 240.4 168.7 242.0 173.1 274.8 182.1 296.7 173.7 298.6 165.0 281.3 154.7 296.1 139.2 297.4 136.1 293.4 134.8 262.8 134.6 263.6 108.6Z"/>
<path fill="#FBE9D8" d="M263.6 108.6 262.8 134.6 293.4 134.8 297.4 136.1 300.7 133.9 310.1 116.1 311.2 110.9Z"/>
<path fill="#EBBC9F" d="M300.7 133.9 297.4 136.1 296.1 139.2 281.3 154.7 298.9 165.6 349.7 157.4 350.1 148.5 346.2 112.6 311.2 110.9 310.1 116.1Z"/>
<path fill="#C0674A" d="M346.2 112.6 350.1 148.5 349.7 157.4 360.2 183.1 391.7 170.3 385.7 114.5Z"/>
<path fill="#EBBC9F" d="M385.7 114.5 391.7 170.3 397.0 185.8 398.7 187.3 403.6 188.9 409.0 188.3 464.3 179.5 471.6 176.9 470.1 172.6 447.4 139.8 445.3 117.4Z"/>
<path fill="#C0674A" d="M298.9 165.6 296.7 173.7 298.8 187.8 300.4 189.4 359.8 200.6 398.5 192.5 403.6 188.9 397.0 185.8 391.7 170.3 360.2 183.1 349.7 157.4Z"/>
<path fill="#EBBC9F" d="M242.0 173.1 240.8 175.5 238.8 210.0 233.7 212.1 230.1 215.3 226.5 237.5 285.2 247.1 299.4 189.2 297.2 174.2 294.0 173.9 274.8 182.1Z"/>
<path fill="#EBBC9F" d="M226.5 237.5 214.9 250.8 211.5 279.7 213.6 286.3 276.5 302.1 280.0 300.5 288.4 254.1 287.9 248.8 285.2 247.1Z"/>
<path fill="#C0674A" d="M298.1 190.7 285.2 247.1 287.9 248.8 291.2 247.5 337.3 249.1 355.3 237.5 359.8 200.6 302.3 189.2 299.4 189.2Z"/>
<path fill="#EBBC9F" d="M359.8 200.6 355.3 237.4 390.2 232.7 406.4 228.6 409.8 195.1 409.0 188.3 403.6 188.9 398.5 192.5 362.3 199.4Z"/>
<path fill="#EBBC9F" d="M409.4 188.0 407.1 227.5 413.3 227.0 430.5 240.1 459.0 242.3 457.9 222.8 464.5 184.0 464.3 179.5Z"/>
<path fill="#D9906F" d="M287.9 248.8 284.1 282.3 339.6 290.7 337.3 249.1 291.2 247.5Z"/>
<path fill="#FBE9D8" d="M337.3 249.1 340.5 291.7 348.8 295.6 398.1 304.7 412.0 236.3 411.1 233.0 406.4 228.6 390.2 232.7 355.3 237.4Z"/>
<path fill="#FBE9D8" d="M406.4 228.6 411.1 233.0 412.0 236.3 398.1 304.7 398.4 315.0 400.1 315.6 449.6 304.5 455.0 262.1 459.1 246.9 459.0 242.3 430.5 240.1 413.3 227.0 410.3 226.8Z"/>
<path fill="#C0674A" d="M283.4 282.9 280.0 300.5 278.2 302.2 281.5 304.3 325.5 317.9 328.1 319.8 347.0 325.2 349.1 325.2 349.9 323.8 348.8 295.6 347.0 294.1 339.6 290.7 286.9 282.2Z"/>
<path fill="#FBE9D8" d="M190.7 310.5 183.4 338.7 197.8 351.9 221.2 357.1 223.4 356.6 235.2 291.9 213.6 286.3 210.3 289.9 205.3 309.7 201.8 311.2Z"/>
<path fill="#A63F26" d="M235.2 291.9 223.4 356.6 235.1 360.4 268.1 360.8 276.5 302.1Z"/>
<path fill="#EBBC9F" d="M276.0 303.2 268.1 360.8 292.4 386.9 294.1 390.2 321.5 399.0 326.3 399.3 325.1 394.1 328.1 319.8 325.5 317.9 281.5 304.3 278.2 302.2Z"/>
<path fill="#EBBC9F" d="M328.1 319.8 325.1 394.1 326.3 399.3 328.8 400.5 331.8 394.4 334.5 392.0 361.7 388.2 366.2 384.7 387.4 379.8 390.2 350.9 372.6 351.0 358.0 330.5 349.1 325.2Z"/>
<path fill="#FBE9D8" d="M398.1 304.7 348.8 295.6 349.5 325.9 358.0 330.5 372.6 351.0 392.0 350.5 398.4 315.0Z"/>
<path fill="#C0674A" d="M398.4 315.0 393.4 346.0 389.7 353.9 387.4 379.8 407.3 380.7 442.5 379.1 449.6 304.5 400.1 315.6Z"/>
<path fill="#C0674A" d="M450.5 303.2 445.7 344.9 487.5 339.4 488.7 335.8 487.4 302.6Z"/>
<path fill="#EBBC9F" d="M56.0 379.2 90.5 380.7 96.7 379.7 109.7 344.1 113.6 341.1 114.5 338.3 94.5 332.5 71.0 328.7Z"/>
<path fill="#A63F26" d="M109.7 344.1 96.7 379.7 119.9 399.5 143.2 380.7 147.8 370.9 153.0 346.5 114.8 338.2 113.6 341.1Z"/>
<path fill="#FBE9D8" d="M169.4 340.0 163.5 346.8 153.0 346.5 147.3 369.2 176.0 405.9 182.7 407.1 185.3 399.8 189.9 397.0 235.7 392.3 234.5 359.9 197.8 351.9 183.4 338.7Z"/>
<path fill="#D9906F" d="M268.1 360.8 235.1 360.4 235.7 392.3 263.1 414.8 294.1 390.2 292.4 386.9Z"/>
<path fill="#D9906F" d="M294.1 390.2 263.1 414.8 269.9 431.5 267.8 454.4 315.7 463.3 331.5 444.8 332.6 432.3 328.8 400.5Z"/>
<path fill="#D9906F" d="M28.2 473.1 50.9 475.8 51.8 468.8 59.3 468.5 60.1 467.2 60.5 446.3 76.4 445.1 90.5 380.7 56.0 379.2Z"/>
<path fill="#A63F26" d="M90.5 380.7 81.0 427.1 78.3 432.6 76.4 445.1 118.0 445.8 118.5 432.3 120.1 429.7 119.9 399.5 96.7 379.7Z"/>
<path fill="#A63F26" d="M143.2 380.7 119.9 399.5 120.1 429.7 118.5 432.3 118.0 445.8 134.8 446.9 140.2 448.9 152.8 431.1 184.3 431.8 185.8 430.7 186.4 417.0 182.7 407.1 176.0 405.9 150.6 372.4 148.3 371.0 146.7 371.6Z"/>
<path fill="#C0674A" d="M186.6 398.3 182.7 407.1 186.4 417.0 186.3 429.6 184.3 431.8 185.4 454.8 203.8 453.5 206.4 457.1 219.8 460.0 221.8 464.2 224.0 464.9 261.7 463.8 265.4 462.1 267.8 454.4 269.6 429.8 263.1 414.8 238.0 393.7 235.7 392.3 189.9 397.0Z"/>
<path fill="#EBBC9F" d="M334.5 392.0 328.8 400.5 332.6 432.3 331.5 444.8 315.7 463.3 331.5 473.4 337.0 475.2 339.2 473.5 339.6 462.9 365.7 459.2 367.7 450.8 367.6 434.1 364.7 426.9 364.1 393.1 361.7 388.2Z"/>
<path fill="#FBE9D8" d="M387.4 379.8 363.9 385.6 361.7 388.2 364.1 393.1 364.7 426.9 367.6 434.1 367.6 450.6 406.0 444.3 411.1 437.4 405.1 429.1 407.3 380.7Z"/>
<path fill="#EBBC9F" d="M407.3 380.7 405.6 430.7 411.1 437.4 418.7 437.3 427.8 444.8 433.5 462.8 442.3 474.3 444.7 471.7 460.1 438.1 464.2 432.0 466.8 431.1 479.7 433.3 486.6 431.5 491.4 427.5 487.9 423.1 488.1 385.7 486.1 381.9 476.7 379.9 408.4 380.0Z"/>
<path fill="#A63F26" d="M60.6 446.3 59.6 468.2 51.9 468.8 51.2 469.9 54.3 513.1 61.8 515.7 113.2 515.5 115.7 514.1 117.4 509.7 117.8 484.0 134.9 459.4 140.2 448.9 134.8 446.9 118.0 445.8 76.4 445.1Z"/>
<path fill="#D9906F" d="M152.8 431.1 140.2 448.9 134.9 459.4 178.9 485.8 183.3 487.2 185.4 454.8 184.3 431.8Z"/>
<path fill="#EBBC9F" d="M134.9 459.4 117.3 485.5 117.4 509.7 140.0 511.2 151.3 523.3 171.3 521.0 181.0 518.3 183.5 504.3 183.3 487.2 178.9 485.8Z"/>
<path fill="#FBE9D8" d="M367.7 450.8 365.7 459.2 376.1 466.3 382.4 479.2 381.7 493.5 432.3 503.3 432.9 483.6 441.1 477.1 442.3 474.3 433.5 462.8 427.8 444.8 422.5 439.4 418.7 437.3 411.1 437.4 407.5 442.9 403.9 445.3Z"/>
<path fill="#D9906F" d="M460.1 438.1 441.1 477.1 434.0 482.1 432.6 484.6 432.3 503.3 434.0 518.2 463.2 518.0 465.3 505.7 481.5 488.6 470.6 476.1 478.9 465.4 479.7 433.3 466.8 431.1 464.2 432.0Z"/>
<path fill="#EBBC9F" d="M204.8 453.8 184.8 455.8 183.5 504.3 223.3 499.1 226.8 529.8 232.4 526.5 250.1 529.4 264.2 467.4 264.0 463.5 224.0 464.9 221.8 464.2 219.8 460.0 206.4 457.1Z"/>
<path fill="#EBBC9F" d="M267.8 454.4 264.0 463.5 264.2 467.4 250.1 529.4 278.2 536.9 321.8 543.8 337.0 475.2 331.5 473.4 315.7 463.3Z"/>
<path fill="#D9906F" d="M335.6 478.3 321.8 543.8 345.5 550.6 348.1 543.5 367.5 517.2 343.4 477.2 339.2 473.5Z"/>
<path fill="#D9906F" d="M339.6 462.9 339.2 473.5 343.4 477.2 365.5 515.5 367.6 517.1 381.7 493.5 382.4 479.2 377.3 467.9 374.9 464.9 365.7 459.2 341.9 461.8Z"/>
<path fill="#C0674A" d="M362.4 525.3 346.0 547.4 345.5 550.6 352.7 561.0 425.2 575.8 429.3 560.7 432.8 534.8 434.3 518.6 432.3 503.3 381.7 493.5Z"/>
<path fill="#C0674A" d="M434.3 518.6 429.3 560.7 462.1 573.4 474.6 568.9 474.5 559.5 468.4 547.2 469.2 533.4 463.2 518.0Z"/>
<path fill="#A63F26" d="M429.0 561.2 419.6 608.5 472.5 612.5 483.3 585.3 486.0 581.7 484.8 574.3 474.6 568.9 462.1 573.4 445.7 567.6 432.3 561.0Z"/>
<path fill="#EBBC9F" d="M50.9 475.8 28.2 473.1 14.5 519.5 19.9 521.9 38.7 540.0 42.1 533.5 53.3 532.8 55.0 521.5 59.7 518.7 61.5 515.7 53.6 512.1 51.6 477.2Z"/>
<path fill="#EBBC9F" d="M39.4 540.5 19.9 521.9 14.5 519.5 1.0 565.0 5.0 591.0 38.1 591.0 45.0 551.5Z"/>
<path fill="#C0674A" d="M40.7 534.2 39.0 540.0 45.0 551.5 38.1 591.0 109.4 594.5 108.6 555.3 115.0 543.0 113.2 515.5 61.5 515.7 59.7 518.7 55.0 521.5 53.3 532.8Z"/>
<path fill="#C0674A" d="M113.2 515.5 115.0 543.0 108.6 555.3 109.4 594.5 175.8 597.6 171.3 521.0 151.3 523.3 140.0 511.2 117.4 509.7 115.7 514.1Z"/>
<path fill="#D9906F" d="M183.5 504.3 181.0 518.3 171.3 521.0 175.8 597.6 237.0 600.6 228.8 555.9 234.8 544.8 232.1 530.0 230.9 528.0 226.9 529.9 225.7 527.3 223.3 499.1Z"/>
<path fill="#D9906F" d="M230.9 528.0 234.9 546.2 228.9 557.5 237.0 600.6 283.1 602.8 278.2 536.9 250.1 529.4 232.4 526.5Z"/>
<path fill="#D9906F" d="M278.2 536.9 283.1 602.8 353.8 606.2 355.0 566.9 353.3 561.3 345.5 550.6 321.8 543.8 280.0 536.3Z"/>
<path fill="#D9906F" d="M354.8 571.9 353.8 606.2 360.0 606.5 362.5 634.0 392.5 630.0 397.5 609.0 419.6 608.5 425.2 575.8 353.8 561.2Z"/>
<path fill="#EBBC9F" d="M821.2 406.9 816.4 413.4 824.4 424.0 830.4 424.1 833.6 415.3 833.0 406.7 826.0 405.2Z"/>
<path fill="#C0674A" d="M1425.0 1020.0 1425.0 1022.5 1428.7 1026.2ZM1417.5 1020.0 1406.0 1022.5 1407.5 1028.8 1415.0 1030.0 1422.5 1025.0ZM1372.5 1040.0 1377.5 1047.5 1397.5 1042.5 1402.5 1035.0 1397.5 1030.0ZM1365.0 1040.0 1347.5 1052.5 1352.5 1055.0 1365.0 1050.0 1372.5 1045.0Z"/>
<path fill="#C0674A" d="M1425.0 1020.0 1430.0 1027.5 1450.0 1012.5 1468.7 995.7 1462.1 987.1 1425.0 1012.5Z"/>
<path fill="#C0674A" d="M1468.7 995.7 1475.0 990.0 1477.5 977.5 1462.1 987.1ZM1480.0 986.0 1492.5 985.0 1492.5 976.0 1477.5 977.5Z"/>
<path fill="#A63F26" d="M1859.8 896.2 1849.0 930.0 1850.0 950.0 1857.0 953.0 1867.3 899.3Z"/>
</g>
<text x="24" y="883" font-size="36.3" font-weight="bold">All Cause Mortality (Rate Of Death Per 1,000)</text>
<rect x="24" y="902.5" width="87.5" height="39.5" fill="#FBE9D8" stroke="#6f625a" stroke-width="1.3"/>
<text x="128" y="933.3" font-size="28.5">0.00 - 0.23</text>
<rect x="24" y="955.3" width="87.5" height="39.5" fill="#EBBC9F" stroke="#6f625a" stroke-width="1.3"/>
<text x="128" y="986.1" font-size="28.5">0.24 - 0.32</text>
<rect x="24" y="1008.1" width="87.5" height="39.5" fill="#D9906F" stroke="#6f625a" stroke-width="1.3"/>
<text x="128" y="1038.9" font-size="28.5">0.33 - 0.41</text>
<rect x="24" y="1060.9" width="87.5" height="39.5" fill="#C0674A" stroke="#6f625a" stroke-width="1.3"/>
<text x="128" y="1091.7" font-size="28.5">0.42 - 0.53</text>
<rect x="24" y="1113.7" width="87.5" height="39.5" fill="#A63F26" stroke="#6f625a" stroke-width="1.3"/>
<text x="128" y="1144.5" font-size="28.5">0.54 - 0.88</text>
<g>
<rect x="1073.5" y="1313.3" width="411" height="16" fill="#000"/>
<rect x="1101.5" y="1316" width="23.5" height="11" fill="#fff"/>
<rect x="1153" y="1316" width="22.5" height="11" fill="#fff"/>
<rect x="1280.5" y="1316" width="100" height="11" fill="#fff"/>
<g font-size="25" text-anchor="middle">
<text x="1075" y="1302.6">0</text><text x="1126" y="1302.6">5</text><text x="1177" y="1302.6">10</text>
<text x="1279" y="1302.6">20</text><text x="1381" y="1302.6">30</text><text x="1483" y="1302.6">40</text>
</g>
<text x="1491" y="1328" font-size="26">Miles</text>
</g>
<g>
<path d="M1911.5,1275.2 V1250.1 H1916 L1928,1268.5 V1250.1 H1932 V1275.2 H1927.5 L1915.5,1256.8 V1275.2 Z" fill="#000"/>
<path d="M1921.5,1281 L1896.7,1364 L1921.5,1331.2 Z" fill="#000"/>
<path d="M1921.5,1284 L1944.5,1362 L1921.5,1331.2 Z" fill="none" stroke="#000" stroke-width="2.4"/>
</g>
</svg>
</body></html>
